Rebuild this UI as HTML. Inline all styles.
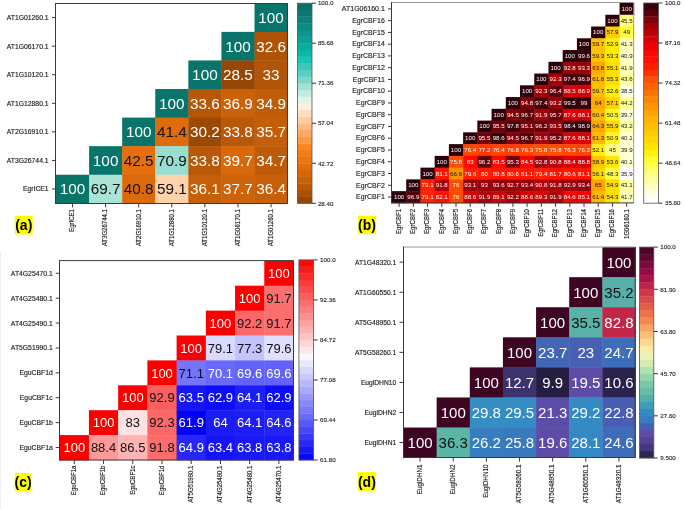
<!DOCTYPE html>
<html><head><meta charset="utf-8"><title>Heatmaps</title>
<style>
html,body{margin:0;padding:0;background:#fff;}
body{width:685px;height:509px;overflow:hidden;font-family:"Liberation Sans", sans-serif;}
svg{display:block;will-change:transform;filter:blur(0.35px);}
</style></head>
<body>
<svg width="685" height="509" viewBox="0 0 685 509" font-family='"Liberation Sans", sans-serif'>
<defs><clipPath id="clipb"><rect x="338" y="0" width="347" height="239.0"/></clipPath></defs>
<rect width="685" height="509" fill="#fff"/>
<line x1="0.5" y1="252" x2="0.5" y2="509" stroke="#eeeeee" stroke-width="1"/>
<rect x="254.51" y="3.3" width="33.49" height="28.97" fill="#08746a"/>
<rect x="221.43" y="31.87" width="33.49" height="28.97" fill="#08746a"/>
<rect x="254.51" y="31.87" width="33.49" height="28.97" fill="#af5307"/>
<rect x="188.34" y="60.44" width="33.49" height="28.97" fill="#08746a"/>
<rect x="221.43" y="60.44" width="33.49" height="28.97" fill="#964705"/>
<rect x="254.51" y="60.44" width="33.49" height="28.97" fill="#b25507"/>
<rect x="155.26" y="89.01" width="33.49" height="28.97" fill="#08746a"/>
<rect x="188.34" y="89.01" width="33.49" height="28.97" fill="#b65707"/>
<rect x="221.43" y="89.01" width="33.49" height="28.97" fill="#cb6109"/>
<rect x="254.51" y="89.01" width="33.49" height="28.97" fill="#bf5c08"/>
<rect x="122.17" y="117.59" width="33.49" height="28.97" fill="#08746a"/>
<rect x="155.26" y="117.59" width="33.49" height="28.97" fill="#df6c0a"/>
<rect x="188.34" y="117.59" width="33.49" height="28.97" fill="#9b4a05"/>
<rect x="221.43" y="117.59" width="33.49" height="28.97" fill="#b85808"/>
<rect x="254.51" y="117.59" width="33.49" height="28.97" fill="#c45e09"/>
<rect x="89.09" y="146.16" width="33.49" height="28.97" fill="#08746a"/>
<rect x="122.17" y="146.16" width="33.49" height="28.97" fill="#e56f0c"/>
<rect x="155.26" y="146.16" width="33.49" height="28.97" fill="#98ded0"/>
<rect x="188.34" y="146.16" width="33.49" height="28.97" fill="#b85808"/>
<rect x="221.43" y="146.16" width="33.49" height="28.97" fill="#d86809"/>
<rect x="254.51" y="146.16" width="33.49" height="28.97" fill="#be5b08"/>
<rect x="56" y="174.73" width="33.49" height="28.97" fill="#08746a"/>
<rect x="89.09" y="174.73" width="33.49" height="28.97" fill="#aae4d6"/>
<rect x="122.17" y="174.73" width="33.49" height="28.97" fill="#dd6a0a"/>
<rect x="155.26" y="174.73" width="33.49" height="28.97" fill="#fed3ac"/>
<rect x="188.34" y="174.73" width="33.49" height="28.97" fill="#c65f09"/>
<rect x="221.43" y="174.73" width="33.49" height="28.97" fill="#ce6309"/>
<rect x="254.51" y="174.73" width="33.49" height="28.97" fill="#c86009"/>
<text transform="translate(271.06 23.06) scale(1 1.0)" font-size="15.3" fill="#fff" text-anchor="middle">100</text>
<text transform="translate(237.97 51.63) scale(1 1.0)" font-size="15.3" fill="#fff" text-anchor="middle">100</text>
<text transform="translate(271.06 51.63) scale(1 1.0)" font-size="15.3" fill="#fff" text-anchor="middle">32.6</text>
<text transform="translate(204.89 80.21) scale(1 1.0)" font-size="15.3" fill="#fff" text-anchor="middle">100</text>
<text transform="translate(237.97 80.21) scale(1 1.0)" font-size="15.3" fill="#fff" text-anchor="middle">28.5</text>
<text transform="translate(271.06 80.21) scale(1 1.0)" font-size="15.3" fill="#fff" text-anchor="middle">33</text>
<text transform="translate(171.8 108.78) scale(1 1.0)" font-size="15.3" fill="#fff" text-anchor="middle">100</text>
<text transform="translate(204.89 108.78) scale(1 1.0)" font-size="15.3" fill="#fff" text-anchor="middle">33.6</text>
<text transform="translate(237.97 108.78) scale(1 1.0)" font-size="15.3" fill="#fff" text-anchor="middle">36.9</text>
<text transform="translate(271.06 108.78) scale(1 1.0)" font-size="15.3" fill="#fff" text-anchor="middle">34.9</text>
<text transform="translate(138.71 137.35) scale(1 1.0)" font-size="15.3" fill="#fff" text-anchor="middle">100</text>
<text transform="translate(171.8 137.35) scale(1 1.0)" font-size="15.3" fill="#111" text-anchor="middle">41.4</text>
<text transform="translate(204.89 137.35) scale(1 1.0)" font-size="15.3" fill="#fff" text-anchor="middle">30.2</text>
<text transform="translate(237.97 137.35) scale(1 1.0)" font-size="15.3" fill="#fff" text-anchor="middle">33.8</text>
<text transform="translate(271.06 137.35) scale(1 1.0)" font-size="15.3" fill="#fff" text-anchor="middle">35.7</text>
<text transform="translate(105.63 165.92) scale(1 1.0)" font-size="15.3" fill="#fff" text-anchor="middle">100</text>
<text transform="translate(138.71 165.92) scale(1 1.0)" font-size="15.3" fill="#111" text-anchor="middle">42.5</text>
<text transform="translate(171.8 165.92) scale(1 1.0)" font-size="15.3" fill="#111" text-anchor="middle">70.9</text>
<text transform="translate(204.89 165.92) scale(1 1.0)" font-size="15.3" fill="#fff" text-anchor="middle">33.8</text>
<text transform="translate(237.97 165.92) scale(1 1.0)" font-size="15.3" fill="#fff" text-anchor="middle">39.7</text>
<text transform="translate(271.06 165.92) scale(1 1.0)" font-size="15.3" fill="#fff" text-anchor="middle">34.7</text>
<text transform="translate(72.54 194.49) scale(1 1.0)" font-size="15.3" fill="#fff" text-anchor="middle">100</text>
<text transform="translate(105.63 194.49) scale(1 1.0)" font-size="15.3" fill="#111" text-anchor="middle">69.7</text>
<text transform="translate(138.71 194.49) scale(1 1.0)" font-size="15.3" fill="#111" text-anchor="middle">40.8</text>
<text transform="translate(171.8 194.49) scale(1 1.0)" font-size="15.3" fill="#111" text-anchor="middle">59.1</text>
<text transform="translate(204.89 194.49) scale(1 1.0)" font-size="15.3" fill="#fff" text-anchor="middle">36.1</text>
<text transform="translate(237.97 194.49) scale(1 1.0)" font-size="15.3" fill="#fff" text-anchor="middle">37.7</text>
<text transform="translate(271.06 194.49) scale(1 1.0)" font-size="15.3" fill="#fff" text-anchor="middle">36.4</text>
<line x1="55.5" y1="3.5" x2="287.5" y2="3.5" stroke="#3a3a3a" stroke-width="1"/>
<line x1="287.5" y1="3.5" x2="287.5" y2="203.5" stroke="#3a3a3a" stroke-width="1"/>
<line x1="55.5" y1="203.5" x2="287.5" y2="203.5" stroke="#3a3a3a" stroke-width="1"/>
<line x1="55.5" y1="3" x2="55.5" y2="204" stroke="#3a3a3a" stroke-width="1"/>
<line x1="52" y1="17.59" x2="56" y2="17.59" stroke="#3a3a3a" stroke-width="1"/>
<text transform="translate(48.6 20.03) scale(1 1.0)" font-size="6.8" fill="#222222" stroke="#222" stroke-width="0.15" text-anchor="end">AT1G01260.1</text>
<line x1="52" y1="46.16" x2="56" y2="46.16" stroke="#3a3a3a" stroke-width="1"/>
<text transform="translate(48.6 48.61) scale(1 1.0)" font-size="6.8" fill="#222222" stroke="#222" stroke-width="0.15" text-anchor="end">AT1G06170.1</text>
<line x1="52" y1="74.73" x2="56" y2="74.73" stroke="#3a3a3a" stroke-width="1"/>
<text transform="translate(48.6 77.18) scale(1 1.0)" font-size="6.8" fill="#222222" stroke="#222" stroke-width="0.15" text-anchor="end">AT1G10120.1</text>
<line x1="52" y1="103.3" x2="56" y2="103.3" stroke="#3a3a3a" stroke-width="1"/>
<text transform="translate(48.6 105.75) scale(1 1.0)" font-size="6.8" fill="#222222" stroke="#222" stroke-width="0.15" text-anchor="end">AT1G12880.1</text>
<line x1="52" y1="131.87" x2="56" y2="131.87" stroke="#3a3a3a" stroke-width="1"/>
<text transform="translate(48.6 134.32) scale(1 1.0)" font-size="6.8" fill="#222222" stroke="#222" stroke-width="0.15" text-anchor="end">AT2G16910.1</text>
<line x1="52" y1="160.44" x2="56" y2="160.44" stroke="#3a3a3a" stroke-width="1"/>
<text transform="translate(48.6 162.89) scale(1 1.0)" font-size="6.8" fill="#222222" stroke="#222" stroke-width="0.15" text-anchor="end">AT3G26744.1</text>
<line x1="52" y1="189.01" x2="56" y2="189.01" stroke="#3a3a3a" stroke-width="1"/>
<text transform="translate(48.6 191.46) scale(1 1.0)" font-size="6.8" fill="#222222" stroke="#222" stroke-width="0.15" text-anchor="end">EgrICE1</text>
<line x1="72.54" y1="203.3" x2="72.54" y2="207.3" stroke="#3a3a3a" stroke-width="1"/>
<text transform="translate(74.41 209) rotate(-90) scale(0.88 1)" font-size="6.9" fill="#222222" stroke="#222" stroke-width="0.15" text-anchor="end">EgrICE1</text>
<line x1="105.63" y1="203.3" x2="105.63" y2="207.3" stroke="#3a3a3a" stroke-width="1"/>
<text transform="translate(107.49 209) rotate(-90) scale(0.88 1)" font-size="6.9" fill="#222222" stroke="#222" stroke-width="0.15" text-anchor="end">AT3G26744.1</text>
<line x1="138.71" y1="203.3" x2="138.71" y2="207.3" stroke="#3a3a3a" stroke-width="1"/>
<text transform="translate(140.58 209) rotate(-90) scale(0.88 1)" font-size="6.9" fill="#222222" stroke="#222" stroke-width="0.15" text-anchor="end">AT2G16910.1</text>
<line x1="171.8" y1="203.3" x2="171.8" y2="207.3" stroke="#3a3a3a" stroke-width="1"/>
<text transform="translate(173.66 209) rotate(-90) scale(0.88 1)" font-size="6.9" fill="#222222" stroke="#222" stroke-width="0.15" text-anchor="end">AT1G12880.1</text>
<line x1="204.89" y1="203.3" x2="204.89" y2="207.3" stroke="#3a3a3a" stroke-width="1"/>
<text transform="translate(206.75 209) rotate(-90) scale(0.88 1)" font-size="6.9" fill="#222222" stroke="#222" stroke-width="0.15" text-anchor="end">AT1G10120.1</text>
<line x1="237.97" y1="203.3" x2="237.97" y2="207.3" stroke="#3a3a3a" stroke-width="1"/>
<text transform="translate(239.83 209) rotate(-90) scale(0.88 1)" font-size="6.9" fill="#222222" stroke="#222" stroke-width="0.15" text-anchor="end">AT1G06170.1</text>
<line x1="271.06" y1="203.3" x2="271.06" y2="207.3" stroke="#3a3a3a" stroke-width="1"/>
<text transform="translate(272.92 209) rotate(-90) scale(0.88 1)" font-size="6.9" fill="#222222" stroke="#222" stroke-width="0.15" text-anchor="end">AT1G01260.1</text>
<rect x="297.4" y="196.63" width="14.6" height="6.97" fill="#964705"/>
<rect x="297.4" y="189.96" width="14.6" height="6.97" fill="#aa5106"/>
<rect x="297.4" y="183.29" width="14.6" height="6.97" fill="#bc5a08"/>
<rect x="297.4" y="176.62" width="14.6" height="6.97" fill="#ca6109"/>
<rect x="297.4" y="169.95" width="14.6" height="6.97" fill="#d56709"/>
<rect x="297.4" y="163.28" width="14.6" height="6.97" fill="#e06c0a"/>
<rect x="297.4" y="156.61" width="14.6" height="6.97" fill="#ec740e"/>
<rect x="297.4" y="149.94" width="14.6" height="6.97" fill="#f47c14"/>
<rect x="297.4" y="143.27" width="14.6" height="6.97" fill="#f88828"/>
<rect x="297.4" y="136.6" width="14.6" height="6.97" fill="#fc9840"/>
<rect x="297.4" y="129.93" width="14.6" height="6.97" fill="#fea860"/>
<rect x="297.4" y="123.26" width="14.6" height="6.97" fill="#feba80"/>
<rect x="297.4" y="116.59" width="14.6" height="6.97" fill="#fecca0"/>
<rect x="297.4" y="109.92" width="14.6" height="6.97" fill="#fee0c0"/>
<rect x="297.4" y="103.25" width="14.6" height="6.97" fill="#fdf0dc"/>
<rect x="297.4" y="96.58" width="14.6" height="6.97" fill="#e2f3e8"/>
<rect x="297.4" y="89.91" width="14.6" height="6.97" fill="#c2ebe0"/>
<rect x="297.4" y="83.24" width="14.6" height="6.97" fill="#a4e2d4"/>
<rect x="297.4" y="76.57" width="14.6" height="6.97" fill="#7dd6c8"/>
<rect x="297.4" y="69.9" width="14.6" height="6.97" fill="#5acec0"/>
<rect x="297.4" y="63.23" width="14.6" height="6.97" fill="#3cc8ba"/>
<rect x="297.4" y="56.56" width="14.6" height="6.97" fill="#1cc2b2"/>
<rect x="297.4" y="49.89" width="14.6" height="6.97" fill="#0ab8a6"/>
<rect x="297.4" y="43.22" width="14.6" height="6.97" fill="#0aac9d"/>
<rect x="297.4" y="36.55" width="14.6" height="6.97" fill="#0aa193"/>
<rect x="297.4" y="29.88" width="14.6" height="6.97" fill="#0a968a"/>
<rect x="297.4" y="23.21" width="14.6" height="6.97" fill="#0a8c80"/>
<rect x="297.4" y="16.54" width="14.6" height="6.97" fill="#098277"/>
<rect x="297.4" y="9.87" width="14.6" height="6.97" fill="#09796f"/>
<rect x="297.4" y="3.2" width="14.6" height="6.97" fill="#087068"/>
<rect x="297.4" y="3.2" width="14.6" height="200.1" fill="none" stroke="#555" stroke-width="0.8"/>
<line x1="312" y1="3.2" x2="316" y2="3.2" stroke="#333" stroke-width="1"/>
<text x="317.9" y="5.43" font-size="6.2" fill="#222" stroke="#222" stroke-width="0.12">100.0</text>
<line x1="312" y1="43.22" x2="316" y2="43.22" stroke="#333" stroke-width="1"/>
<text x="317.9" y="45.45" font-size="6.2" fill="#222" stroke="#222" stroke-width="0.12">85.68</text>
<line x1="312" y1="83.24" x2="316" y2="83.24" stroke="#333" stroke-width="1"/>
<text x="317.9" y="85.47" font-size="6.2" fill="#222" stroke="#222" stroke-width="0.12">71.36</text>
<line x1="312" y1="123.26" x2="316" y2="123.26" stroke="#333" stroke-width="1"/>
<text x="317.9" y="125.49" font-size="6.2" fill="#222" stroke="#222" stroke-width="0.12">57.04</text>
<line x1="312" y1="163.28" x2="316" y2="163.28" stroke="#333" stroke-width="1"/>
<text x="317.9" y="165.51" font-size="6.2" fill="#222" stroke="#222" stroke-width="0.12">42.72</text>
<line x1="312" y1="203.3" x2="316" y2="203.3" stroke="#333" stroke-width="1"/>
<text x="317.9" y="205.53" font-size="6.2" fill="#222" stroke="#222" stroke-width="0.12">28.40</text>
<rect x="14.8" y="215.9" width="17.9" height="18.6" fill="#ffff00"/>
<text x="23.75" y="229.8" font-size="14" font-weight="bold" fill="#000" text-anchor="middle">(a)</text>
<g clip-path="url(#clipb)">
<rect x="619.58" y="3" width="14.62" height="12.16" fill="#2c0008"/>
<rect x="605.35" y="14.76" width="14.62" height="12.16" fill="#2c0008"/>
<rect x="619.58" y="14.76" width="14.62" height="12.16" fill="#ffff7f"/>
<rect x="591.13" y="26.52" width="14.62" height="12.16" fill="#2c0008"/>
<rect x="605.35" y="26.52" width="14.62" height="12.16" fill="#ffcc00"/>
<rect x="619.58" y="26.52" width="14.62" height="12.16" fill="#ffff3c"/>
<rect x="576.91" y="38.28" width="14.62" height="12.16" fill="#2c0008"/>
<rect x="591.13" y="38.28" width="14.62" height="12.16" fill="#ffc200"/>
<rect x="605.35" y="38.28" width="14.62" height="12.16" fill="#ffec03"/>
<rect x="619.58" y="38.28" width="14.62" height="12.16" fill="#ffffbd"/>
<rect x="562.68" y="50.04" width="14.62" height="12.16" fill="#2c0008"/>
<rect x="576.91" y="50.04" width="14.62" height="12.16" fill="#2f0008"/>
<rect x="591.13" y="50.04" width="14.62" height="12.16" fill="#ffc400"/>
<rect x="605.35" y="50.04" width="14.62" height="12.16" fill="#ffea00"/>
<rect x="619.58" y="50.04" width="14.62" height="12.16" fill="#ffffc4"/>
<rect x="548.46" y="61.79" width="14.62" height="12.16" fill="#2c0008"/>
<rect x="562.68" y="61.79" width="14.62" height="12.16" fill="#9d0008"/>
<rect x="576.91" y="61.79" width="14.62" height="12.16" fill="#970008"/>
<rect x="591.13" y="61.79" width="14.62" height="12.16" fill="#ffa900"/>
<rect x="605.35" y="61.79" width="14.62" height="12.16" fill="#ffde00"/>
<rect x="619.58" y="61.79" width="14.62" height="12.16" fill="#ffffb5"/>
<rect x="534.24" y="73.55" width="14.62" height="12.16" fill="#2c0008"/>
<rect x="548.46" y="73.55" width="14.62" height="12.16" fill="#a30008"/>
<rect x="562.68" y="73.55" width="14.62" height="12.16" fill="#480008"/>
<rect x="576.91" y="73.55" width="14.62" height="12.16" fill="#550008"/>
<rect x="591.13" y="73.55" width="14.62" height="12.16" fill="#ffb700"/>
<rect x="605.35" y="73.55" width="14.62" height="12.16" fill="#ffdd00"/>
<rect x="619.58" y="73.55" width="14.62" height="12.16" fill="#ffff9b"/>
<rect x="520.01" y="85.31" width="14.62" height="12.16" fill="#2c0008"/>
<rect x="534.24" y="85.31" width="14.62" height="12.16" fill="#a30008"/>
<rect x="548.46" y="85.31" width="14.62" height="12.16" fill="#5f0008"/>
<rect x="562.68" y="85.31" width="14.62" height="12.16" fill="#d70004"/>
<rect x="576.91" y="85.31" width="14.62" height="12.16" fill="#d20004"/>
<rect x="591.13" y="85.31" width="14.62" height="12.16" fill="#ffc200"/>
<rect x="605.35" y="85.31" width="14.62" height="12.16" fill="#ffee08"/>
<rect x="619.58" y="85.31" width="14.62" height="12.16" fill="#ffffea"/>
<rect x="505.79" y="97.07" width="14.62" height="12.16" fill="#2c0008"/>
<rect x="520.01" y="97.07" width="14.62" height="12.16" fill="#810008"/>
<rect x="534.24" y="97.07" width="14.62" height="12.16" fill="#480008"/>
<rect x="548.46" y="97.07" width="14.62" height="12.16" fill="#980008"/>
<rect x="562.68" y="97.07" width="14.62" height="12.16" fill="#300008"/>
<rect x="576.91" y="97.07" width="14.62" height="12.16" fill="#340008"/>
<rect x="591.13" y="97.07" width="14.62" height="12.16" fill="#ffa800"/>
<rect x="605.35" y="97.07" width="14.62" height="12.16" fill="#ffd100"/>
<rect x="619.58" y="97.07" width="14.62" height="12.16" fill="#ffff92"/>
<rect x="491.56" y="108.83" width="14.62" height="12.16" fill="#2c0008"/>
<rect x="505.79" y="108.83" width="14.62" height="12.16" fill="#880008"/>
<rect x="520.01" y="108.83" width="14.62" height="12.16" fill="#5a0008"/>
<rect x="534.24" y="108.83" width="14.62" height="12.16" fill="#a80008"/>
<rect x="548.46" y="108.83" width="14.62" height="12.16" fill="#6c0008"/>
<rect x="562.68" y="108.83" width="14.62" height="12.16" fill="#e00003"/>
<rect x="576.91" y="108.83" width="14.62" height="12.16" fill="#db0004"/>
<rect x="591.13" y="108.83" width="14.62" height="12.16" fill="#ffbf00"/>
<rect x="605.35" y="108.83" width="14.62" height="12.16" fill="#fff926"/>
<rect x="619.58" y="108.83" width="14.62" height="12.16" fill="#ffffd7"/>
<rect x="477.34" y="120.59" width="14.62" height="12.16" fill="#2c0008"/>
<rect x="491.56" y="120.59" width="14.62" height="12.16" fill="#710008"/>
<rect x="505.79" y="120.59" width="14.62" height="12.16" fill="#430008"/>
<rect x="520.01" y="120.59" width="14.62" height="12.16" fill="#7a0008"/>
<rect x="534.24" y="120.59" width="14.62" height="12.16" fill="#630008"/>
<rect x="548.46" y="120.59" width="14.62" height="12.16" fill="#940008"/>
<rect x="562.68" y="120.59" width="14.62" height="12.16" fill="#3c0008"/>
<rect x="576.91" y="120.59" width="14.62" height="12.16" fill="#360008"/>
<rect x="591.13" y="120.59" width="14.62" height="12.16" fill="#ffa600"/>
<rect x="605.35" y="120.59" width="14.62" height="12.16" fill="#ffd900"/>
<rect x="619.58" y="120.59" width="14.62" height="12.16" fill="#ffffa1"/>
<rect x="463.12" y="132.35" width="14.62" height="12.16" fill="#2c0008"/>
<rect x="477.34" y="132.35" width="14.62" height="12.16" fill="#710008"/>
<rect x="491.56" y="132.35" width="14.62" height="12.16" fill="#390008"/>
<rect x="505.79" y="132.35" width="14.62" height="12.16" fill="#880008"/>
<rect x="520.01" y="132.35" width="14.62" height="12.16" fill="#5a0008"/>
<rect x="534.24" y="132.35" width="14.62" height="12.16" fill="#a80008"/>
<rect x="548.46" y="132.35" width="14.62" height="12.16" fill="#770008"/>
<rect x="562.68" y="132.35" width="14.62" height="12.16" fill="#e00003"/>
<rect x="576.91" y="132.35" width="14.62" height="12.16" fill="#db0004"/>
<rect x="591.13" y="132.35" width="14.62" height="12.16" fill="#ffba00"/>
<rect x="605.35" y="132.35" width="14.62" height="12.16" fill="#fff720"/>
<rect x="619.58" y="132.35" width="14.62" height="12.16" fill="#ffffd1"/>
<rect x="448.89" y="144.11" width="14.62" height="12.16" fill="#2c0008"/>
<rect x="463.12" y="144.11" width="14.62" height="12.16" fill="#ff4400"/>
<rect x="477.34" y="144.11" width="14.62" height="12.16" fill="#ff3700"/>
<rect x="491.56" y="144.11" width="14.62" height="12.16" fill="#ff4400"/>
<rect x="505.79" y="144.11" width="14.62" height="12.16" fill="#ff3d00"/>
<rect x="520.01" y="144.11" width="14.62" height="12.16" fill="#ff4500"/>
<rect x="534.24" y="144.11" width="14.62" height="12.16" fill="#ff4d00"/>
<rect x="548.46" y="144.11" width="14.62" height="12.16" fill="#ff4d00"/>
<rect x="562.68" y="144.11" width="14.62" height="12.16" fill="#ff4500"/>
<rect x="576.91" y="144.11" width="14.62" height="12.16" fill="#ff4500"/>
<rect x="591.13" y="144.11" width="14.62" height="12.16" fill="#fff00f"/>
<rect x="605.35" y="144.11" width="14.62" height="12.16" fill="#ffff86"/>
<rect x="619.58" y="144.11" width="14.62" height="12.16" fill="#ffffd4"/>
<rect x="434.67" y="155.86" width="14.62" height="12.16" fill="#2c0008"/>
<rect x="448.89" y="155.86" width="14.62" height="12.16" fill="#ff4d00"/>
<rect x="463.12" y="155.86" width="14.62" height="12.16" fill="#ff0a00"/>
<rect x="477.34" y="155.86" width="14.62" height="12.16" fill="#630008"/>
<rect x="491.56" y="155.86" width="14.62" height="12.16" fill="#fe0700"/>
<rect x="505.79" y="155.86" width="14.62" height="12.16" fill="#750008"/>
<rect x="520.01" y="155.86" width="14.62" height="12.16" fill="#f80401"/>
<rect x="534.24" y="155.86" width="14.62" height="12.16" fill="#9d0008"/>
<rect x="548.46" y="155.86" width="14.62" height="12.16" fill="#b70007"/>
<rect x="562.68" y="155.86" width="14.62" height="12.16" fill="#d80004"/>
<rect x="576.91" y="155.86" width="14.62" height="12.16" fill="#d30004"/>
<rect x="591.13" y="155.86" width="14.62" height="12.16" fill="#ffc600"/>
<rect x="605.35" y="155.86" width="14.62" height="12.16" fill="#ffe800"/>
<rect x="619.58" y="155.86" width="14.62" height="12.16" fill="#ffffd1"/>
<rect x="420.45" y="167.62" width="14.62" height="12.16" fill="#2c0008"/>
<rect x="434.67" y="167.62" width="14.62" height="12.16" fill="#ff1400"/>
<rect x="448.89" y="167.62" width="14.62" height="12.16" fill="#ff9400"/>
<rect x="463.12" y="167.62" width="14.62" height="12.16" fill="#ff1e00"/>
<rect x="477.34" y="167.62" width="14.62" height="12.16" fill="#ff1b00"/>
<rect x="491.56" y="167.62" width="14.62" height="12.16" fill="#ff1600"/>
<rect x="505.79" y="167.62" width="14.62" height="12.16" fill="#ff1700"/>
<rect x="520.01" y="167.62" width="14.62" height="12.16" fill="#ff1400"/>
<rect x="534.24" y="167.62" width="14.62" height="12.16" fill="#ff1f00"/>
<rect x="548.46" y="167.62" width="14.62" height="12.16" fill="#ff1100"/>
<rect x="562.68" y="167.62" width="14.62" height="12.16" fill="#ff1700"/>
<rect x="576.91" y="167.62" width="14.62" height="12.16" fill="#ff1400"/>
<rect x="591.13" y="167.62" width="14.62" height="12.16" fill="#ffd700"/>
<rect x="605.35" y="167.62" width="14.62" height="12.16" fill="#ffff4a"/>
<rect x="619.58" y="167.62" width="14.62" height="12.16" fill="#ffffff"/>
<rect x="406.22" y="179.38" width="14.62" height="12.16" fill="#2c0008"/>
<rect x="420.45" y="179.38" width="14.62" height="12.16" fill="#ff2100"/>
<rect x="434.67" y="179.38" width="14.62" height="12.16" fill="#aa0008"/>
<rect x="448.89" y="179.38" width="14.62" height="12.16" fill="#ff4a00"/>
<rect x="463.12" y="179.38" width="14.62" height="12.16" fill="#990008"/>
<rect x="477.34" y="179.38" width="14.62" height="12.16" fill="#9a0008"/>
<rect x="491.56" y="179.38" width="14.62" height="12.16" fill="#930008"/>
<rect x="505.79" y="179.38" width="14.62" height="12.16" fill="#9e0008"/>
<rect x="520.01" y="179.38" width="14.62" height="12.16" fill="#950008"/>
<rect x="534.24" y="179.38" width="14.62" height="12.16" fill="#b70007"/>
<rect x="548.46" y="179.38" width="14.62" height="12.16" fill="#aa0008"/>
<rect x="562.68" y="179.38" width="14.62" height="12.16" fill="#9c0008"/>
<rect x="576.91" y="179.38" width="14.62" height="12.16" fill="#950008"/>
<rect x="591.13" y="179.38" width="14.62" height="12.16" fill="#ffa100"/>
<rect x="605.35" y="179.38" width="14.62" height="12.16" fill="#ffdf00"/>
<rect x="619.58" y="179.38" width="14.62" height="12.16" fill="#ffffa3"/>
<rect x="392" y="191.14" width="14.62" height="12.16" fill="#2c0008"/>
<rect x="406.22" y="191.14" width="14.62" height="12.16" fill="#550008"/>
<rect x="420.45" y="191.14" width="14.62" height="12.16" fill="#ff2100"/>
<rect x="434.67" y="191.14" width="14.62" height="12.16" fill="#ff0f00"/>
<rect x="448.89" y="191.14" width="14.62" height="12.16" fill="#ff4a00"/>
<rect x="463.12" y="191.14" width="14.62" height="12.16" fill="#d60004"/>
<rect x="477.34" y="191.14" width="14.62" height="12.16" fill="#a80008"/>
<rect x="491.56" y="191.14" width="14.62" height="12.16" fill="#cf0005"/>
<rect x="505.79" y="191.14" width="14.62" height="12.16" fill="#a40008"/>
<rect x="520.01" y="191.14" width="14.62" height="12.16" fill="#d60004"/>
<rect x="534.24" y="191.14" width="14.62" height="12.16" fill="#cc0005"/>
<rect x="548.46" y="191.14" width="14.62" height="12.16" fill="#a80008"/>
<rect x="562.68" y="191.14" width="14.62" height="12.16" fill="#f70401"/>
<rect x="576.91" y="191.14" width="14.62" height="12.16" fill="#f50201"/>
<rect x="591.13" y="191.14" width="14.62" height="12.16" fill="#ffb900"/>
<rect x="605.35" y="191.14" width="14.62" height="12.16" fill="#ffe300"/>
<rect x="619.58" y="191.14" width="14.62" height="12.16" fill="#ffffb7"/>
<text transform="translate(626.69 10.88) scale(1 0.9)" font-size="6.2" fill="#fff" text-anchor="middle">100</text>
<text transform="translate(612.46 22.64) scale(1 0.9)" font-size="6.2" fill="#fff" text-anchor="middle">100</text>
<text transform="translate(626.69 22.64) scale(1 0.9)" font-size="6.2" fill="#111" text-anchor="middle">45.5</text>
<text transform="translate(598.24 34.39) scale(1 0.9)" font-size="6.2" fill="#fff" text-anchor="middle">100</text>
<text transform="translate(612.46 34.39) scale(1 0.9)" font-size="6.2" fill="#111" text-anchor="middle">57.9</text>
<text transform="translate(626.69 34.39) scale(1 0.9)" font-size="6.2" fill="#111" text-anchor="middle">49</text>
<text transform="translate(584.02 46.15) scale(1 0.9)" font-size="6.2" fill="#fff" text-anchor="middle">100</text>
<text transform="translate(598.24 46.15) scale(1 0.9)" font-size="6.2" fill="#111" text-anchor="middle">59.7</text>
<text transform="translate(612.46 46.15) scale(1 0.9)" font-size="6.2" fill="#111" text-anchor="middle">52.9</text>
<text transform="translate(626.69 46.15) scale(1 0.9)" font-size="6.2" fill="#111" text-anchor="middle">41.3</text>
<text transform="translate(569.79 57.91) scale(1 0.9)" font-size="6.2" fill="#fff" text-anchor="middle">100</text>
<text transform="translate(584.02 57.91) scale(1 0.9)" font-size="6.2" fill="#fff" text-anchor="middle">99.6</text>
<text transform="translate(598.24 57.91) scale(1 0.9)" font-size="6.2" fill="#111" text-anchor="middle">59.3</text>
<text transform="translate(612.46 57.91) scale(1 0.9)" font-size="6.2" fill="#111" text-anchor="middle">53.3</text>
<text transform="translate(626.69 57.91) scale(1 0.9)" font-size="6.2" fill="#111" text-anchor="middle">40.9</text>
<text transform="translate(555.57 69.67) scale(1 0.9)" font-size="6.2" fill="#fff" text-anchor="middle">100</text>
<text transform="translate(569.79 69.67) scale(1 0.9)" font-size="6.2" fill="#fff" text-anchor="middle">92.8</text>
<text transform="translate(584.02 69.67) scale(1 0.9)" font-size="6.2" fill="#fff" text-anchor="middle">93.3</text>
<text transform="translate(598.24 69.67) scale(1 0.9)" font-size="6.2" fill="#111" text-anchor="middle">63.8</text>
<text transform="translate(612.46 69.67) scale(1 0.9)" font-size="6.2" fill="#111" text-anchor="middle">55.1</text>
<text transform="translate(626.69 69.67) scale(1 0.9)" font-size="6.2" fill="#111" text-anchor="middle">41.9</text>
<text transform="translate(541.35 81.43) scale(1 0.9)" font-size="6.2" fill="#fff" text-anchor="middle">100</text>
<text transform="translate(555.57 81.43) scale(1 0.9)" font-size="6.2" fill="#fff" text-anchor="middle">92.3</text>
<text transform="translate(569.79 81.43) scale(1 0.9)" font-size="6.2" fill="#fff" text-anchor="middle">97.4</text>
<text transform="translate(584.02 81.43) scale(1 0.9)" font-size="6.2" fill="#fff" text-anchor="middle">96.9</text>
<text transform="translate(598.24 81.43) scale(1 0.9)" font-size="6.2" fill="#111" text-anchor="middle">61.8</text>
<text transform="translate(612.46 81.43) scale(1 0.9)" font-size="6.2" fill="#111" text-anchor="middle">55.3</text>
<text transform="translate(626.69 81.43) scale(1 0.9)" font-size="6.2" fill="#111" text-anchor="middle">43.6</text>
<text transform="translate(527.12 93.19) scale(1 0.9)" font-size="6.2" fill="#fff" text-anchor="middle">100</text>
<text transform="translate(541.35 93.19) scale(1 0.9)" font-size="6.2" fill="#fff" text-anchor="middle">92.3</text>
<text transform="translate(555.57 93.19) scale(1 0.9)" font-size="6.2" fill="#fff" text-anchor="middle">96.4</text>
<text transform="translate(569.79 93.19) scale(1 0.9)" font-size="6.2" fill="#fff" text-anchor="middle">88.5</text>
<text transform="translate(584.02 93.19) scale(1 0.9)" font-size="6.2" fill="#fff" text-anchor="middle">88.9</text>
<text transform="translate(598.24 93.19) scale(1 0.9)" font-size="6.2" fill="#111" text-anchor="middle">59.7</text>
<text transform="translate(612.46 93.19) scale(1 0.9)" font-size="6.2" fill="#111" text-anchor="middle">52.6</text>
<text transform="translate(626.69 93.19) scale(1 0.9)" font-size="6.2" fill="#111" text-anchor="middle">38.5</text>
<text transform="translate(512.9 104.95) scale(1 0.9)" font-size="6.2" fill="#fff" text-anchor="middle">100</text>
<text transform="translate(527.12 104.95) scale(1 0.9)" font-size="6.2" fill="#fff" text-anchor="middle">94.8</text>
<text transform="translate(541.35 104.95) scale(1 0.9)" font-size="6.2" fill="#fff" text-anchor="middle">97.4</text>
<text transform="translate(555.57 104.95) scale(1 0.9)" font-size="6.2" fill="#fff" text-anchor="middle">93.2</text>
<text transform="translate(569.79 104.95) scale(1 0.9)" font-size="6.2" fill="#fff" text-anchor="middle">99.5</text>
<text transform="translate(584.02 104.95) scale(1 0.9)" font-size="6.2" fill="#fff" text-anchor="middle">99</text>
<text transform="translate(598.24 104.95) scale(1 0.9)" font-size="6.2" fill="#111" text-anchor="middle">64</text>
<text transform="translate(612.46 104.95) scale(1 0.9)" font-size="6.2" fill="#111" text-anchor="middle">57.1</text>
<text transform="translate(626.69 104.95) scale(1 0.9)" font-size="6.2" fill="#111" text-anchor="middle">44.2</text>
<text transform="translate(498.68 116.71) scale(1 0.9)" font-size="6.2" fill="#fff" text-anchor="middle">100</text>
<text transform="translate(512.9 116.71) scale(1 0.9)" font-size="6.2" fill="#fff" text-anchor="middle">94.5</text>
<text transform="translate(527.12 116.71) scale(1 0.9)" font-size="6.2" fill="#fff" text-anchor="middle">96.7</text>
<text transform="translate(541.35 116.71) scale(1 0.9)" font-size="6.2" fill="#fff" text-anchor="middle">91.9</text>
<text transform="translate(555.57 116.71) scale(1 0.9)" font-size="6.2" fill="#fff" text-anchor="middle">95.7</text>
<text transform="translate(569.79 116.71) scale(1 0.9)" font-size="6.2" fill="#fff" text-anchor="middle">87.6</text>
<text transform="translate(584.02 116.71) scale(1 0.9)" font-size="6.2" fill="#fff" text-anchor="middle">88.1</text>
<text transform="translate(598.24 116.71) scale(1 0.9)" font-size="6.2" fill="#111" text-anchor="middle">60.4</text>
<text transform="translate(612.46 116.71) scale(1 0.9)" font-size="6.2" fill="#111" text-anchor="middle">50.5</text>
<text transform="translate(626.69 116.71) scale(1 0.9)" font-size="6.2" fill="#111" text-anchor="middle">39.7</text>
<text transform="translate(484.45 128.47) scale(1 0.9)" font-size="6.2" fill="#fff" text-anchor="middle">100</text>
<text transform="translate(498.68 128.47) scale(1 0.9)" font-size="6.2" fill="#fff" text-anchor="middle">95.5</text>
<text transform="translate(512.9 128.47) scale(1 0.9)" font-size="6.2" fill="#fff" text-anchor="middle">97.8</text>
<text transform="translate(527.12 128.47) scale(1 0.9)" font-size="6.2" fill="#fff" text-anchor="middle">95.1</text>
<text transform="translate(541.35 128.47) scale(1 0.9)" font-size="6.2" fill="#fff" text-anchor="middle">96.2</text>
<text transform="translate(555.57 128.47) scale(1 0.9)" font-size="6.2" fill="#fff" text-anchor="middle">93.5</text>
<text transform="translate(569.79 128.47) scale(1 0.9)" font-size="6.2" fill="#fff" text-anchor="middle">98.4</text>
<text transform="translate(584.02 128.47) scale(1 0.9)" font-size="6.2" fill="#fff" text-anchor="middle">98.9</text>
<text transform="translate(598.24 128.47) scale(1 0.9)" font-size="6.2" fill="#111" text-anchor="middle">64.3</text>
<text transform="translate(612.46 128.47) scale(1 0.9)" font-size="6.2" fill="#111" text-anchor="middle">55.9</text>
<text transform="translate(626.69 128.47) scale(1 0.9)" font-size="6.2" fill="#111" text-anchor="middle">43.2</text>
<text transform="translate(470.23 140.22) scale(1 0.9)" font-size="6.2" fill="#fff" text-anchor="middle">100</text>
<text transform="translate(484.45 140.22) scale(1 0.9)" font-size="6.2" fill="#fff" text-anchor="middle">95.5</text>
<text transform="translate(498.68 140.22) scale(1 0.9)" font-size="6.2" fill="#fff" text-anchor="middle">98.6</text>
<text transform="translate(512.9 140.22) scale(1 0.9)" font-size="6.2" fill="#fff" text-anchor="middle">94.5</text>
<text transform="translate(527.12 140.22) scale(1 0.9)" font-size="6.2" fill="#fff" text-anchor="middle">96.7</text>
<text transform="translate(541.35 140.22) scale(1 0.9)" font-size="6.2" fill="#fff" text-anchor="middle">91.9</text>
<text transform="translate(555.57 140.22) scale(1 0.9)" font-size="6.2" fill="#fff" text-anchor="middle">95.2</text>
<text transform="translate(569.79 140.22) scale(1 0.9)" font-size="6.2" fill="#fff" text-anchor="middle">87.6</text>
<text transform="translate(584.02 140.22) scale(1 0.9)" font-size="6.2" fill="#fff" text-anchor="middle">88.1</text>
<text transform="translate(598.24 140.22) scale(1 0.9)" font-size="6.2" fill="#111" text-anchor="middle">61.3</text>
<text transform="translate(612.46 140.22) scale(1 0.9)" font-size="6.2" fill="#111" text-anchor="middle">50.9</text>
<text transform="translate(626.69 140.22) scale(1 0.9)" font-size="6.2" fill="#111" text-anchor="middle">40.1</text>
<text transform="translate(456.01 151.98) scale(1 0.9)" font-size="6.2" fill="#fff" text-anchor="middle">100</text>
<text transform="translate(470.23 151.98) scale(1 0.9)" font-size="6.2" fill="#fff" text-anchor="middle">76.4</text>
<text transform="translate(484.45 151.98) scale(1 0.9)" font-size="6.2" fill="#fff" text-anchor="middle">77.2</text>
<text transform="translate(498.68 151.98) scale(1 0.9)" font-size="6.2" fill="#fff" text-anchor="middle">76.4</text>
<text transform="translate(512.9 151.98) scale(1 0.9)" font-size="6.2" fill="#fff" text-anchor="middle">76.8</text>
<text transform="translate(527.12 151.98) scale(1 0.9)" font-size="6.2" fill="#fff" text-anchor="middle">76.3</text>
<text transform="translate(541.35 151.98) scale(1 0.9)" font-size="6.2" fill="#fff" text-anchor="middle">75.8</text>
<text transform="translate(555.57 151.98) scale(1 0.9)" font-size="6.2" fill="#fff" text-anchor="middle">75.8</text>
<text transform="translate(569.79 151.98) scale(1 0.9)" font-size="6.2" fill="#fff" text-anchor="middle">76.3</text>
<text transform="translate(584.02 151.98) scale(1 0.9)" font-size="6.2" fill="#fff" text-anchor="middle">76.3</text>
<text transform="translate(598.24 151.98) scale(1 0.9)" font-size="6.2" fill="#111" text-anchor="middle">52.1</text>
<text transform="translate(612.46 151.98) scale(1 0.9)" font-size="6.2" fill="#111" text-anchor="middle">45</text>
<text transform="translate(626.69 151.98) scale(1 0.9)" font-size="6.2" fill="#111" text-anchor="middle">39.9</text>
<text transform="translate(441.78 163.74) scale(1 0.9)" font-size="6.2" fill="#fff" text-anchor="middle">100</text>
<text transform="translate(456.01 163.74) scale(1 0.9)" font-size="6.2" fill="#fff" text-anchor="middle">75.8</text>
<text transform="translate(470.23 163.74) scale(1 0.9)" font-size="6.2" fill="#fff" text-anchor="middle">83</text>
<text transform="translate(484.45 163.74) scale(1 0.9)" font-size="6.2" fill="#fff" text-anchor="middle">96.2</text>
<text transform="translate(498.68 163.74) scale(1 0.9)" font-size="6.2" fill="#fff" text-anchor="middle">83.5</text>
<text transform="translate(512.9 163.74) scale(1 0.9)" font-size="6.2" fill="#fff" text-anchor="middle">95.3</text>
<text transform="translate(527.12 163.74) scale(1 0.9)" font-size="6.2" fill="#fff" text-anchor="middle">84.5</text>
<text transform="translate(541.35 163.74) scale(1 0.9)" font-size="6.2" fill="#fff" text-anchor="middle">92.8</text>
<text transform="translate(555.57 163.74) scale(1 0.9)" font-size="6.2" fill="#fff" text-anchor="middle">90.8</text>
<text transform="translate(569.79 163.74) scale(1 0.9)" font-size="6.2" fill="#fff" text-anchor="middle">88.4</text>
<text transform="translate(584.02 163.74) scale(1 0.9)" font-size="6.2" fill="#fff" text-anchor="middle">88.8</text>
<text transform="translate(598.24 163.74) scale(1 0.9)" font-size="6.2" fill="#111" text-anchor="middle">58.9</text>
<text transform="translate(612.46 163.74) scale(1 0.9)" font-size="6.2" fill="#111" text-anchor="middle">53.6</text>
<text transform="translate(626.69 163.74) scale(1 0.9)" font-size="6.2" fill="#111" text-anchor="middle">40.1</text>
<text transform="translate(427.56 175.5) scale(1 0.9)" font-size="6.2" fill="#fff" text-anchor="middle">100</text>
<text transform="translate(441.78 175.5) scale(1 0.9)" font-size="6.2" fill="#fff" text-anchor="middle">81.1</text>
<text transform="translate(456.01 175.5) scale(1 0.9)" font-size="6.2" fill="#111" text-anchor="middle">66.9</text>
<text transform="translate(470.23 175.5) scale(1 0.9)" font-size="6.2" fill="#fff" text-anchor="middle">79.6</text>
<text transform="translate(484.45 175.5) scale(1 0.9)" font-size="6.2" fill="#fff" text-anchor="middle">80</text>
<text transform="translate(498.68 175.5) scale(1 0.9)" font-size="6.2" fill="#fff" text-anchor="middle">80.8</text>
<text transform="translate(512.9 175.5) scale(1 0.9)" font-size="6.2" fill="#fff" text-anchor="middle">80.6</text>
<text transform="translate(527.12 175.5) scale(1 0.9)" font-size="6.2" fill="#fff" text-anchor="middle">81.1</text>
<text transform="translate(541.35 175.5) scale(1 0.9)" font-size="6.2" fill="#fff" text-anchor="middle">79.4</text>
<text transform="translate(555.57 175.5) scale(1 0.9)" font-size="6.2" fill="#fff" text-anchor="middle">81.7</text>
<text transform="translate(569.79 175.5) scale(1 0.9)" font-size="6.2" fill="#fff" text-anchor="middle">80.6</text>
<text transform="translate(584.02 175.5) scale(1 0.9)" font-size="6.2" fill="#fff" text-anchor="middle">81.1</text>
<text transform="translate(598.24 175.5) scale(1 0.9)" font-size="6.2" fill="#111" text-anchor="middle">56.1</text>
<text transform="translate(612.46 175.5) scale(1 0.9)" font-size="6.2" fill="#111" text-anchor="middle">48.3</text>
<text transform="translate(626.69 175.5) scale(1 0.9)" font-size="6.2" fill="#111" text-anchor="middle">35.9</text>
<text transform="translate(413.34 187.26) scale(1 0.9)" font-size="6.2" fill="#fff" text-anchor="middle">100</text>
<text transform="translate(427.56 187.26) scale(1 0.9)" font-size="6.2" fill="#fff" text-anchor="middle">79.1</text>
<text transform="translate(441.78 187.26) scale(1 0.9)" font-size="6.2" fill="#fff" text-anchor="middle">91.8</text>
<text transform="translate(456.01 187.26) scale(1 0.9)" font-size="6.2" fill="#fff" text-anchor="middle">76</text>
<text transform="translate(470.23 187.26) scale(1 0.9)" font-size="6.2" fill="#fff" text-anchor="middle">93.1</text>
<text transform="translate(484.45 187.26) scale(1 0.9)" font-size="6.2" fill="#fff" text-anchor="middle">93</text>
<text transform="translate(498.68 187.26) scale(1 0.9)" font-size="6.2" fill="#fff" text-anchor="middle">93.6</text>
<text transform="translate(512.9 187.26) scale(1 0.9)" font-size="6.2" fill="#fff" text-anchor="middle">92.7</text>
<text transform="translate(527.12 187.26) scale(1 0.9)" font-size="6.2" fill="#fff" text-anchor="middle">93.4</text>
<text transform="translate(541.35 187.26) scale(1 0.9)" font-size="6.2" fill="#fff" text-anchor="middle">90.8</text>
<text transform="translate(555.57 187.26) scale(1 0.9)" font-size="6.2" fill="#fff" text-anchor="middle">91.8</text>
<text transform="translate(569.79 187.26) scale(1 0.9)" font-size="6.2" fill="#fff" text-anchor="middle">92.9</text>
<text transform="translate(584.02 187.26) scale(1 0.9)" font-size="6.2" fill="#fff" text-anchor="middle">93.4</text>
<text transform="translate(598.24 187.26) scale(1 0.9)" font-size="6.2" fill="#111" text-anchor="middle">65</text>
<text transform="translate(612.46 187.26) scale(1 0.9)" font-size="6.2" fill="#111" text-anchor="middle">54.9</text>
<text transform="translate(626.69 187.26) scale(1 0.9)" font-size="6.2" fill="#111" text-anchor="middle">43.1</text>
<text transform="translate(399.11 199.02) scale(1 0.9)" font-size="6.2" fill="#fff" text-anchor="middle">100</text>
<text transform="translate(413.34 199.02) scale(1 0.9)" font-size="6.2" fill="#fff" text-anchor="middle">96.9</text>
<text transform="translate(427.56 199.02) scale(1 0.9)" font-size="6.2" fill="#fff" text-anchor="middle">79.1</text>
<text transform="translate(441.78 199.02) scale(1 0.9)" font-size="6.2" fill="#fff" text-anchor="middle">82.1</text>
<text transform="translate(456.01 199.02) scale(1 0.9)" font-size="6.2" fill="#fff" text-anchor="middle">76</text>
<text transform="translate(470.23 199.02) scale(1 0.9)" font-size="6.2" fill="#fff" text-anchor="middle">88.6</text>
<text transform="translate(484.45 199.02) scale(1 0.9)" font-size="6.2" fill="#fff" text-anchor="middle">91.9</text>
<text transform="translate(498.68 199.02) scale(1 0.9)" font-size="6.2" fill="#fff" text-anchor="middle">89.1</text>
<text transform="translate(512.9 199.02) scale(1 0.9)" font-size="6.2" fill="#fff" text-anchor="middle">92.2</text>
<text transform="translate(527.12 199.02) scale(1 0.9)" font-size="6.2" fill="#fff" text-anchor="middle">88.6</text>
<text transform="translate(541.35 199.02) scale(1 0.9)" font-size="6.2" fill="#fff" text-anchor="middle">89.3</text>
<text transform="translate(555.57 199.02) scale(1 0.9)" font-size="6.2" fill="#fff" text-anchor="middle">91.9</text>
<text transform="translate(569.79 199.02) scale(1 0.9)" font-size="6.2" fill="#fff" text-anchor="middle">84.6</text>
<text transform="translate(584.02 199.02) scale(1 0.9)" font-size="6.2" fill="#fff" text-anchor="middle">85.1</text>
<text transform="translate(598.24 199.02) scale(1 0.9)" font-size="6.2" fill="#111" text-anchor="middle">61.4</text>
<text transform="translate(612.46 199.02) scale(1 0.9)" font-size="6.2" fill="#111" text-anchor="middle">54.3</text>
<text transform="translate(626.69 199.02) scale(1 0.9)" font-size="6.2" fill="#111" text-anchor="middle">41.7</text>
<line x1="391.5" y1="2.5" x2="633.7" y2="2.5" stroke="#999999" stroke-width="1"/>
<line x1="633.7" y1="2.5" x2="633.7" y2="202.9" stroke="#999999" stroke-width="1"/>
<line x1="391.5" y1="202.9" x2="633.7" y2="202.9" stroke="#3a3a3a" stroke-width="1"/>
<line x1="391.5" y1="2" x2="391.5" y2="203.4" stroke="#3a3a3a" stroke-width="1"/>
<line x1="388" y1="8.88" x2="392" y2="8.88" stroke="#3a3a3a" stroke-width="1"/>
<text transform="translate(384.8 11.15) scale(1 0.9)" font-size="7.0" fill="#222222" stroke="#222" stroke-width="0.15" text-anchor="end">AT1G06160.1</text>
<line x1="388" y1="20.64" x2="392" y2="20.64" stroke="#3a3a3a" stroke-width="1"/>
<text transform="translate(384.8 22.91) scale(1 0.9)" font-size="7.0" fill="#222222" stroke="#222" stroke-width="0.15" text-anchor="end">EgrCBF16</text>
<line x1="388" y1="32.4" x2="392" y2="32.4" stroke="#3a3a3a" stroke-width="1"/>
<text transform="translate(384.8 34.67) scale(1 0.9)" font-size="7.0" fill="#222222" stroke="#222" stroke-width="0.15" text-anchor="end">EgrCBF15</text>
<line x1="388" y1="44.16" x2="392" y2="44.16" stroke="#3a3a3a" stroke-width="1"/>
<text transform="translate(384.8 46.42) scale(1 0.9)" font-size="7.0" fill="#222222" stroke="#222" stroke-width="0.15" text-anchor="end">EgrCBF14</text>
<line x1="388" y1="55.91" x2="392" y2="55.91" stroke="#3a3a3a" stroke-width="1"/>
<text transform="translate(384.8 58.18) scale(1 0.9)" font-size="7.0" fill="#222222" stroke="#222" stroke-width="0.15" text-anchor="end">EgrCBF13</text>
<line x1="388" y1="67.67" x2="392" y2="67.67" stroke="#3a3a3a" stroke-width="1"/>
<text transform="translate(384.8 69.94) scale(1 0.9)" font-size="7.0" fill="#222222" stroke="#222" stroke-width="0.15" text-anchor="end">EgrCBF12</text>
<line x1="388" y1="79.43" x2="392" y2="79.43" stroke="#3a3a3a" stroke-width="1"/>
<text transform="translate(384.8 81.7) scale(1 0.9)" font-size="7.0" fill="#222222" stroke="#222" stroke-width="0.15" text-anchor="end">EgrCBF11</text>
<line x1="388" y1="91.19" x2="392" y2="91.19" stroke="#3a3a3a" stroke-width="1"/>
<text transform="translate(384.8 93.46) scale(1 0.9)" font-size="7.0" fill="#222222" stroke="#222" stroke-width="0.15" text-anchor="end">EgrCBF10</text>
<line x1="388" y1="102.95" x2="392" y2="102.95" stroke="#3a3a3a" stroke-width="1"/>
<text transform="translate(384.8 105.22) scale(1 0.9)" font-size="7.0" fill="#222222" stroke="#222" stroke-width="0.15" text-anchor="end">EgrCBF9</text>
<line x1="388" y1="114.71" x2="392" y2="114.71" stroke="#3a3a3a" stroke-width="1"/>
<text transform="translate(384.8 116.98) scale(1 0.9)" font-size="7.0" fill="#222222" stroke="#222" stroke-width="0.15" text-anchor="end">EgrCBF8</text>
<line x1="388" y1="126.47" x2="392" y2="126.47" stroke="#3a3a3a" stroke-width="1"/>
<text transform="translate(384.8 128.74) scale(1 0.9)" font-size="7.0" fill="#222222" stroke="#222" stroke-width="0.15" text-anchor="end">EgrCBF7</text>
<line x1="388" y1="138.23" x2="392" y2="138.23" stroke="#3a3a3a" stroke-width="1"/>
<text transform="translate(384.8 140.49) scale(1 0.9)" font-size="7.0" fill="#222222" stroke="#222" stroke-width="0.15" text-anchor="end">EgrCBF6</text>
<line x1="388" y1="149.99" x2="392" y2="149.99" stroke="#3a3a3a" stroke-width="1"/>
<text transform="translate(384.8 152.25) scale(1 0.9)" font-size="7.0" fill="#222222" stroke="#222" stroke-width="0.15" text-anchor="end">EgrCBF5</text>
<line x1="388" y1="161.74" x2="392" y2="161.74" stroke="#3a3a3a" stroke-width="1"/>
<text transform="translate(384.8 164.01) scale(1 0.9)" font-size="7.0" fill="#222222" stroke="#222" stroke-width="0.15" text-anchor="end">EgrCBF4</text>
<line x1="388" y1="173.5" x2="392" y2="173.5" stroke="#3a3a3a" stroke-width="1"/>
<text transform="translate(384.8 175.77) scale(1 0.9)" font-size="7.0" fill="#222222" stroke="#222" stroke-width="0.15" text-anchor="end">EgrCBF3</text>
<line x1="388" y1="185.26" x2="392" y2="185.26" stroke="#3a3a3a" stroke-width="1"/>
<text transform="translate(384.8 187.53) scale(1 0.9)" font-size="7.0" fill="#222222" stroke="#222" stroke-width="0.15" text-anchor="end">EgrCBF2</text>
<line x1="388" y1="197.02" x2="392" y2="197.02" stroke="#3a3a3a" stroke-width="1"/>
<text transform="translate(384.8 199.29) scale(1 0.9)" font-size="7.0" fill="#222222" stroke="#222" stroke-width="0.15" text-anchor="end">EgrCBF1</text>
<line x1="399.11" y1="202.9" x2="399.11" y2="206.9" stroke="#3a3a3a" stroke-width="1"/>
<text transform="translate(400.97 209) rotate(-90) scale(0.88 1)" font-size="6.9" fill="#222222" stroke="#222" stroke-width="0.15" text-anchor="end">EgrCBF1</text>
<line x1="413.34" y1="202.9" x2="413.34" y2="206.9" stroke="#3a3a3a" stroke-width="1"/>
<text transform="translate(415.2 209) rotate(-90) scale(0.88 1)" font-size="6.9" fill="#222222" stroke="#222" stroke-width="0.15" text-anchor="end">EgrCBF2</text>
<line x1="427.56" y1="202.9" x2="427.56" y2="206.9" stroke="#3a3a3a" stroke-width="1"/>
<text transform="translate(429.42 209) rotate(-90) scale(0.88 1)" font-size="6.9" fill="#222222" stroke="#222" stroke-width="0.15" text-anchor="end">EgrCBF3</text>
<line x1="441.78" y1="202.9" x2="441.78" y2="206.9" stroke="#3a3a3a" stroke-width="1"/>
<text transform="translate(443.65 209) rotate(-90) scale(0.88 1)" font-size="6.9" fill="#222222" stroke="#222" stroke-width="0.15" text-anchor="end">EgrCBF4</text>
<line x1="456.01" y1="202.9" x2="456.01" y2="206.9" stroke="#3a3a3a" stroke-width="1"/>
<text transform="translate(457.87 209) rotate(-90) scale(0.88 1)" font-size="6.9" fill="#222222" stroke="#222" stroke-width="0.15" text-anchor="end">EgrCBF5</text>
<line x1="470.23" y1="202.9" x2="470.23" y2="206.9" stroke="#3a3a3a" stroke-width="1"/>
<text transform="translate(472.09 209) rotate(-90) scale(0.88 1)" font-size="6.9" fill="#222222" stroke="#222" stroke-width="0.15" text-anchor="end">EgrCBF6</text>
<line x1="484.45" y1="202.9" x2="484.45" y2="206.9" stroke="#3a3a3a" stroke-width="1"/>
<text transform="translate(486.32 209) rotate(-90) scale(0.88 1)" font-size="6.9" fill="#222222" stroke="#222" stroke-width="0.15" text-anchor="end">EgrCBF7</text>
<line x1="498.68" y1="202.9" x2="498.68" y2="206.9" stroke="#3a3a3a" stroke-width="1"/>
<text transform="translate(500.54 209) rotate(-90) scale(0.88 1)" font-size="6.9" fill="#222222" stroke="#222" stroke-width="0.15" text-anchor="end">EgrCBF8</text>
<line x1="512.9" y1="202.9" x2="512.9" y2="206.9" stroke="#3a3a3a" stroke-width="1"/>
<text transform="translate(514.76 209) rotate(-90) scale(0.88 1)" font-size="6.9" fill="#222222" stroke="#222" stroke-width="0.15" text-anchor="end">EgrCBF9</text>
<line x1="527.12" y1="202.9" x2="527.12" y2="206.9" stroke="#3a3a3a" stroke-width="1"/>
<text transform="translate(528.99 209) rotate(-90) scale(0.88 1)" font-size="6.9" fill="#222222" stroke="#222" stroke-width="0.15" text-anchor="end">EgrCBF10</text>
<line x1="541.35" y1="202.9" x2="541.35" y2="206.9" stroke="#3a3a3a" stroke-width="1"/>
<text transform="translate(543.21 209) rotate(-90) scale(0.88 1)" font-size="6.9" fill="#222222" stroke="#222" stroke-width="0.15" text-anchor="end">EgrCBF11</text>
<line x1="555.57" y1="202.9" x2="555.57" y2="206.9" stroke="#3a3a3a" stroke-width="1"/>
<text transform="translate(557.43 209) rotate(-90) scale(0.88 1)" font-size="6.9" fill="#222222" stroke="#222" stroke-width="0.15" text-anchor="end">EgrCBF12</text>
<line x1="569.79" y1="202.9" x2="569.79" y2="206.9" stroke="#3a3a3a" stroke-width="1"/>
<text transform="translate(571.66 209) rotate(-90) scale(0.88 1)" font-size="6.9" fill="#222222" stroke="#222" stroke-width="0.15" text-anchor="end">EgrCBF13</text>
<line x1="584.02" y1="202.9" x2="584.02" y2="206.9" stroke="#3a3a3a" stroke-width="1"/>
<text transform="translate(585.88 209) rotate(-90) scale(0.88 1)" font-size="6.9" fill="#222222" stroke="#222" stroke-width="0.15" text-anchor="end">EgrCBF14</text>
<line x1="598.24" y1="202.9" x2="598.24" y2="206.9" stroke="#3a3a3a" stroke-width="1"/>
<text transform="translate(600.1 209) rotate(-90) scale(0.88 1)" font-size="6.9" fill="#222222" stroke="#222" stroke-width="0.15" text-anchor="end">EgrCBF15</text>
<line x1="612.46" y1="202.9" x2="612.46" y2="206.9" stroke="#3a3a3a" stroke-width="1"/>
<text transform="translate(614.33 209) rotate(-90) scale(0.88 1)" font-size="6.9" fill="#222222" stroke="#222" stroke-width="0.15" text-anchor="end">EgrCBF16</text>
<line x1="626.69" y1="202.9" x2="626.69" y2="206.9" stroke="#3a3a3a" stroke-width="1"/>
<text transform="translate(628.55 209) rotate(-90) scale(0.88 1)" font-size="6.9" fill="#222222" stroke="#222" stroke-width="0.15" text-anchor="end">AT1G06160.1</text>
<rect x="643.7" y="196.53" width="14.8" height="6.97" fill="#ffffff"/>
<rect x="643.7" y="189.85" width="14.8" height="6.97" fill="#ffffe2"/>
<rect x="643.7" y="183.18" width="14.8" height="6.97" fill="#ffffc0"/>
<rect x="643.7" y="176.51" width="14.8" height="6.97" fill="#ffffa0"/>
<rect x="643.7" y="169.83" width="14.8" height="6.97" fill="#ffff80"/>
<rect x="643.7" y="163.16" width="14.8" height="6.97" fill="#ffff57"/>
<rect x="643.7" y="156.49" width="14.8" height="6.97" fill="#fffd31"/>
<rect x="643.7" y="149.81" width="14.8" height="6.97" fill="#fff212"/>
<rect x="643.7" y="143.14" width="14.8" height="6.97" fill="#ffe500"/>
<rect x="643.7" y="136.47" width="14.8" height="6.97" fill="#ffd700"/>
<rect x="643.7" y="129.79" width="14.8" height="6.97" fill="#ffca00"/>
<rect x="643.7" y="123.12" width="14.8" height="6.97" fill="#ffbf00"/>
<rect x="643.7" y="116.45" width="14.8" height="6.97" fill="#ffb200"/>
<rect x="643.7" y="109.77" width="14.8" height="6.97" fill="#ffa300"/>
<rect x="643.7" y="103.1" width="14.8" height="6.97" fill="#ff9400"/>
<rect x="643.7" y="96.43" width="14.8" height="6.97" fill="#ff8400"/>
<rect x="643.7" y="89.75" width="14.8" height="6.97" fill="#ff7300"/>
<rect x="643.7" y="83.08" width="14.8" height="6.97" fill="#ff6200"/>
<rect x="643.7" y="76.41" width="14.8" height="6.97" fill="#ff5200"/>
<rect x="643.7" y="69.73" width="14.8" height="6.97" fill="#ff3200"/>
<rect x="643.7" y="63.06" width="14.8" height="6.97" fill="#ff1d00"/>
<rect x="643.7" y="56.39" width="14.8" height="6.97" fill="#ff1000"/>
<rect x="643.7" y="49.71" width="14.8" height="6.97" fill="#fb0600"/>
<rect x="643.7" y="43.04" width="14.8" height="6.97" fill="#ee0002"/>
<rect x="643.7" y="36.37" width="14.8" height="6.97" fill="#da0004"/>
<rect x="643.7" y="29.69" width="14.8" height="6.97" fill="#bd0006"/>
<rect x="643.7" y="23.02" width="14.8" height="6.97" fill="#a10008"/>
<rect x="643.7" y="16.35" width="14.8" height="6.97" fill="#840008"/>
<rect x="643.7" y="9.67" width="14.8" height="6.97" fill="#580008"/>
<rect x="643.7" y="3" width="14.8" height="6.97" fill="#350008"/>
<rect x="643.7" y="3" width="14.8" height="200.2" fill="none" stroke="#555" stroke-width="0.8"/>
<line x1="658.5" y1="3" x2="662.5" y2="3" stroke="#333" stroke-width="1"/>
<text x="665" y="5.23" font-size="6.2" fill="#222" stroke="#222" stroke-width="0.12">100.0</text>
<line x1="658.5" y1="43.04" x2="662.5" y2="43.04" stroke="#333" stroke-width="1"/>
<text x="665" y="45.27" font-size="6.2" fill="#222" stroke="#222" stroke-width="0.12">87.16</text>
<line x1="658.5" y1="83.08" x2="662.5" y2="83.08" stroke="#333" stroke-width="1"/>
<text x="665" y="85.31" font-size="6.2" fill="#222" stroke="#222" stroke-width="0.12">74.32</text>
<line x1="658.5" y1="123.12" x2="662.5" y2="123.12" stroke="#333" stroke-width="1"/>
<text x="665" y="125.35" font-size="6.2" fill="#222" stroke="#222" stroke-width="0.12">61.48</text>
<line x1="658.5" y1="163.16" x2="662.5" y2="163.16" stroke="#333" stroke-width="1"/>
<text x="665" y="165.39" font-size="6.2" fill="#222" stroke="#222" stroke-width="0.12">48.64</text>
<line x1="658.5" y1="203.2" x2="662.5" y2="203.2" stroke="#333" stroke-width="1"/>
<text x="665" y="205.43" font-size="6.2" fill="#222" stroke="#222" stroke-width="0.12">35.80</text>
<rect x="358" y="215.8" width="18" height="18.4" fill="#ffff00"/>
<text x="367" y="229.6" font-size="14" font-weight="bold" fill="#000" text-anchor="middle">(b)</text>
</g>
<rect x="264.28" y="260.8" width="29.62" height="25.3" fill="#fa0000"/>
<rect x="235.05" y="285.7" width="29.62" height="25.3" fill="#fa0000"/>
<rect x="264.28" y="285.7" width="29.62" height="25.3" fill="#fc6f6f"/>
<rect x="205.82" y="310.6" width="29.62" height="25.3" fill="#fa0000"/>
<rect x="235.05" y="310.6" width="29.62" height="25.3" fill="#fc6868"/>
<rect x="264.28" y="310.6" width="29.62" height="25.3" fill="#fc6f6f"/>
<rect x="176.6" y="335.5" width="29.62" height="25.3" fill="#fa0000"/>
<rect x="205.82" y="335.5" width="29.62" height="25.3" fill="#dadafe"/>
<rect x="235.05" y="335.5" width="29.62" height="25.3" fill="#c3c3fd"/>
<rect x="264.28" y="335.5" width="29.62" height="25.3" fill="#e0e0fe"/>
<rect x="147.38" y="360.4" width="29.62" height="25.3" fill="#fa0000"/>
<rect x="176.6" y="360.4" width="29.62" height="25.3" fill="#7575fa"/>
<rect x="205.82" y="360.4" width="29.62" height="25.3" fill="#6868f9"/>
<rect x="235.05" y="360.4" width="29.62" height="25.3" fill="#6262f9"/>
<rect x="264.28" y="360.4" width="29.62" height="25.3" fill="#6262f9"/>
<rect x="118.15" y="385.3" width="29.62" height="25.3" fill="#fa0000"/>
<rect x="147.38" y="385.3" width="29.62" height="25.3" fill="#fc5f5f"/>
<rect x="176.6" y="385.3" width="29.62" height="25.3" fill="#1515f6"/>
<rect x="205.82" y="385.3" width="29.62" height="25.3" fill="#0e0ef6"/>
<rect x="235.05" y="385.3" width="29.62" height="25.3" fill="#1d1df6"/>
<rect x="264.28" y="385.3" width="29.62" height="25.3" fill="#0e0ef6"/>
<rect x="88.93" y="410.2" width="29.62" height="25.3" fill="#fa0000"/>
<rect x="118.15" y="410.2" width="29.62" height="25.3" fill="#ffe3e3"/>
<rect x="147.38" y="410.2" width="29.62" height="25.3" fill="#fc6767"/>
<rect x="176.6" y="410.2" width="29.62" height="25.3" fill="#0101f5"/>
<rect x="205.82" y="410.2" width="29.62" height="25.3" fill="#1c1cf6"/>
<rect x="235.05" y="410.2" width="29.62" height="25.3" fill="#1d1df6"/>
<rect x="264.28" y="410.2" width="29.62" height="25.3" fill="#2323f6"/>
<rect x="59.7" y="435.1" width="29.62" height="25.3" fill="#fa0000"/>
<rect x="88.93" y="435.1" width="29.62" height="25.3" fill="#fd9b9b"/>
<rect x="118.15" y="435.1" width="29.62" height="25.3" fill="#feb4b4"/>
<rect x="147.38" y="435.1" width="29.62" height="25.3" fill="#fc6e6e"/>
<rect x="176.6" y="435.1" width="29.62" height="25.3" fill="#2727f7"/>
<rect x="205.82" y="435.1" width="29.62" height="25.3" fill="#1414f6"/>
<rect x="235.05" y="435.1" width="29.62" height="25.3" fill="#1919f6"/>
<rect x="264.28" y="435.1" width="29.62" height="25.3" fill="#1919f6"/>
<text transform="translate(278.89 277.9) scale(1 1.0)" font-size="13" fill="#fff" text-anchor="middle">100</text>
<text transform="translate(249.66 302.8) scale(1 1.0)" font-size="13" fill="#fff" text-anchor="middle">100</text>
<text transform="translate(278.89 302.8) scale(1 1.0)" font-size="13" fill="#111" text-anchor="middle">91.7</text>
<text transform="translate(220.44 327.7) scale(1 1.0)" font-size="13" fill="#fff" text-anchor="middle">100</text>
<text transform="translate(249.66 327.7) scale(1 1.0)" font-size="13" fill="#111" text-anchor="middle">92.2</text>
<text transform="translate(278.89 327.7) scale(1 1.0)" font-size="13" fill="#111" text-anchor="middle">91.7</text>
<text transform="translate(191.21 352.6) scale(1 1.0)" font-size="13" fill="#fff" text-anchor="middle">100</text>
<text transform="translate(220.44 352.6) scale(1 1.0)" font-size="13" fill="#111" text-anchor="middle">79.1</text>
<text transform="translate(249.66 352.6) scale(1 1.0)" font-size="13" fill="#111" text-anchor="middle">77.3</text>
<text transform="translate(278.89 352.6) scale(1 1.0)" font-size="13" fill="#111" text-anchor="middle">79.6</text>
<text transform="translate(161.99 377.5) scale(1 1.0)" font-size="13" fill="#fff" text-anchor="middle">100</text>
<text transform="translate(191.21 377.5) scale(1 1.0)" font-size="13" fill="#111" text-anchor="middle">71.1</text>
<text transform="translate(220.44 377.5) scale(1 1.0)" font-size="13" fill="#fff" text-anchor="middle">70.1</text>
<text transform="translate(249.66 377.5) scale(1 1.0)" font-size="13" fill="#fff" text-anchor="middle">69.6</text>
<text transform="translate(278.89 377.5) scale(1 1.0)" font-size="13" fill="#fff" text-anchor="middle">69.6</text>
<text transform="translate(132.76 402.4) scale(1 1.0)" font-size="13" fill="#fff" text-anchor="middle">100</text>
<text transform="translate(161.99 402.4) scale(1 1.0)" font-size="13" fill="#111" text-anchor="middle">92.9</text>
<text transform="translate(191.21 402.4) scale(1 1.0)" font-size="13" fill="#fff" text-anchor="middle">63.5</text>
<text transform="translate(220.44 402.4) scale(1 1.0)" font-size="13" fill="#fff" text-anchor="middle">62.9</text>
<text transform="translate(249.66 402.4) scale(1 1.0)" font-size="13" fill="#fff" text-anchor="middle">64.1</text>
<text transform="translate(278.89 402.4) scale(1 1.0)" font-size="13" fill="#fff" text-anchor="middle">62.9</text>
<text transform="translate(103.54 427.3) scale(1 1.0)" font-size="13" fill="#fff" text-anchor="middle">100</text>
<text transform="translate(132.76 427.3) scale(1 1.0)" font-size="13" fill="#111" text-anchor="middle">83</text>
<text transform="translate(161.99 427.3) scale(1 1.0)" font-size="13" fill="#111" text-anchor="middle">92.3</text>
<text transform="translate(191.21 427.3) scale(1 1.0)" font-size="13" fill="#fff" text-anchor="middle">61.9</text>
<text transform="translate(220.44 427.3) scale(1 1.0)" font-size="13" fill="#fff" text-anchor="middle">64</text>
<text transform="translate(249.66 427.3) scale(1 1.0)" font-size="13" fill="#fff" text-anchor="middle">64.1</text>
<text transform="translate(278.89 427.3) scale(1 1.0)" font-size="13" fill="#fff" text-anchor="middle">64.6</text>
<text transform="translate(74.31 452.2) scale(1 1.0)" font-size="13" fill="#fff" text-anchor="middle">100</text>
<text transform="translate(103.54 452.2) scale(1 1.0)" font-size="13" fill="#111" text-anchor="middle">88.4</text>
<text transform="translate(132.76 452.2) scale(1 1.0)" font-size="13" fill="#111" text-anchor="middle">86.5</text>
<text transform="translate(161.99 452.2) scale(1 1.0)" font-size="13" fill="#111" text-anchor="middle">91.8</text>
<text transform="translate(191.21 452.2) scale(1 1.0)" font-size="13" fill="#fff" text-anchor="middle">64.9</text>
<text transform="translate(220.44 452.2) scale(1 1.0)" font-size="13" fill="#fff" text-anchor="middle">63.4</text>
<text transform="translate(249.66 452.2) scale(1 1.0)" font-size="13" fill="#fff" text-anchor="middle">63.8</text>
<text transform="translate(278.89 452.2) scale(1 1.0)" font-size="13" fill="#fff" text-anchor="middle">63.8</text>
<line x1="59.5" y1="260.6" x2="293.5" y2="260.6" stroke="#3a3a3a" stroke-width="1"/>
<line x1="293.5" y1="260.6" x2="293.5" y2="460" stroke="#3a3a3a" stroke-width="1"/>
<line x1="59.5" y1="460" x2="293.5" y2="460" stroke="#3a3a3a" stroke-width="1"/>
<line x1="59.5" y1="260.1" x2="59.5" y2="460.5" stroke="#3a3a3a" stroke-width="1"/>
<line x1="55.7" y1="273.25" x2="59.7" y2="273.25" stroke="#3a3a3a" stroke-width="1"/>
<text transform="translate(52.7 275.7) scale(1 1.0)" font-size="6.8" fill="#222222" stroke="#222" stroke-width="0.15" text-anchor="end">AT4G25470.1</text>
<line x1="55.7" y1="298.15" x2="59.7" y2="298.15" stroke="#3a3a3a" stroke-width="1"/>
<text transform="translate(52.7 300.6) scale(1 1.0)" font-size="6.8" fill="#222222" stroke="#222" stroke-width="0.15" text-anchor="end">AT4G25480.1</text>
<line x1="55.7" y1="323.05" x2="59.7" y2="323.05" stroke="#3a3a3a" stroke-width="1"/>
<text transform="translate(52.7 325.5) scale(1 1.0)" font-size="6.8" fill="#222222" stroke="#222" stroke-width="0.15" text-anchor="end">AT4G25490.1</text>
<line x1="55.7" y1="347.95" x2="59.7" y2="347.95" stroke="#3a3a3a" stroke-width="1"/>
<text transform="translate(52.7 350.4) scale(1 1.0)" font-size="6.8" fill="#222222" stroke="#222" stroke-width="0.15" text-anchor="end">AT5G51990.1</text>
<line x1="55.7" y1="372.85" x2="59.7" y2="372.85" stroke="#3a3a3a" stroke-width="1"/>
<text transform="translate(52.7 375.3) scale(1 1.0)" font-size="6.8" fill="#222222" stroke="#222" stroke-width="0.15" text-anchor="end">EguCBF1d</text>
<line x1="55.7" y1="397.75" x2="59.7" y2="397.75" stroke="#3a3a3a" stroke-width="1"/>
<text transform="translate(52.7 400.2) scale(1 1.0)" font-size="6.8" fill="#222222" stroke="#222" stroke-width="0.15" text-anchor="end">EguCBF1c</text>
<line x1="55.7" y1="422.65" x2="59.7" y2="422.65" stroke="#3a3a3a" stroke-width="1"/>
<text transform="translate(52.7 425.1) scale(1 1.0)" font-size="6.8" fill="#222222" stroke="#222" stroke-width="0.15" text-anchor="end">EguCBF1b</text>
<line x1="55.7" y1="447.55" x2="59.7" y2="447.55" stroke="#3a3a3a" stroke-width="1"/>
<text transform="translate(52.7 450) scale(1 1.0)" font-size="6.8" fill="#222222" stroke="#222" stroke-width="0.15" text-anchor="end">EguCBF1a</text>
<line x1="74.31" y1="460" x2="74.31" y2="464" stroke="#3a3a3a" stroke-width="1"/>
<text transform="translate(76.18 465.5) rotate(-90) scale(0.88 1)" font-size="6.9" fill="#222222" stroke="#222" stroke-width="0.15" text-anchor="end">EguCBF1a</text>
<line x1="103.54" y1="460" x2="103.54" y2="464" stroke="#3a3a3a" stroke-width="1"/>
<text transform="translate(105.4 465.5) rotate(-90) scale(0.88 1)" font-size="6.9" fill="#222222" stroke="#222" stroke-width="0.15" text-anchor="end">EguCBF1b</text>
<line x1="132.76" y1="460" x2="132.76" y2="464" stroke="#3a3a3a" stroke-width="1"/>
<text transform="translate(134.63 465.5) rotate(-90) scale(0.88 1)" font-size="6.9" fill="#222222" stroke="#222" stroke-width="0.15" text-anchor="end">EguCBF1c</text>
<line x1="161.99" y1="460" x2="161.99" y2="464" stroke="#3a3a3a" stroke-width="1"/>
<text transform="translate(163.85 465.5) rotate(-90) scale(0.88 1)" font-size="6.9" fill="#222222" stroke="#222" stroke-width="0.15" text-anchor="end">EguCBF1d</text>
<line x1="191.21" y1="460" x2="191.21" y2="464" stroke="#3a3a3a" stroke-width="1"/>
<text transform="translate(193.08 465.5) rotate(-90) scale(0.88 1)" font-size="6.9" fill="#222222" stroke="#222" stroke-width="0.15" text-anchor="end">AT5G51990.1</text>
<line x1="220.44" y1="460" x2="220.44" y2="464" stroke="#3a3a3a" stroke-width="1"/>
<text transform="translate(222.3 465.5) rotate(-90) scale(0.88 1)" font-size="6.9" fill="#222222" stroke="#222" stroke-width="0.15" text-anchor="end">AT4G25490.1</text>
<line x1="249.66" y1="460" x2="249.66" y2="464" stroke="#3a3a3a" stroke-width="1"/>
<text transform="translate(251.53 465.5) rotate(-90) scale(0.88 1)" font-size="6.9" fill="#222222" stroke="#222" stroke-width="0.15" text-anchor="end">AT4G25480.1</text>
<line x1="278.89" y1="460" x2="278.89" y2="464" stroke="#3a3a3a" stroke-width="1"/>
<text transform="translate(280.75 465.5) rotate(-90) scale(0.88 1)" font-size="6.9" fill="#222222" stroke="#222" stroke-width="0.15" text-anchor="end">AT4G25470.1</text>
<rect x="298.9" y="453.33" width="14.7" height="6.97" fill="#0808f5"/>
<rect x="298.9" y="446.66" width="14.7" height="6.97" fill="#1818f6"/>
<rect x="298.9" y="439.99" width="14.7" height="6.97" fill="#2828f7"/>
<rect x="298.9" y="433.32" width="14.7" height="6.97" fill="#3838f7"/>
<rect x="298.9" y="426.65" width="14.7" height="6.97" fill="#4848f8"/>
<rect x="298.9" y="419.98" width="14.7" height="6.97" fill="#5858f9"/>
<rect x="298.9" y="413.31" width="14.7" height="6.97" fill="#6868f9"/>
<rect x="298.9" y="406.64" width="14.7" height="6.97" fill="#7878fa"/>
<rect x="298.9" y="399.97" width="14.7" height="6.97" fill="#8888fa"/>
<rect x="298.9" y="393.3" width="14.7" height="6.97" fill="#9898fb"/>
<rect x="298.9" y="386.63" width="14.7" height="6.97" fill="#a8a8fc"/>
<rect x="298.9" y="379.96" width="14.7" height="6.97" fill="#b8b8fc"/>
<rect x="298.9" y="373.29" width="14.7" height="6.97" fill="#c8c8fd"/>
<rect x="298.9" y="366.62" width="14.7" height="6.97" fill="#d8d8fe"/>
<rect x="298.9" y="359.95" width="14.7" height="6.97" fill="#e8e8fe"/>
<rect x="298.9" y="353.28" width="14.7" height="6.97" fill="#f8f8ff"/>
<rect x="298.9" y="346.61" width="14.7" height="6.97" fill="#ffe6e6"/>
<rect x="298.9" y="339.94" width="14.7" height="6.97" fill="#ffd5d5"/>
<rect x="298.9" y="333.27" width="14.7" height="6.97" fill="#fec4c4"/>
<rect x="298.9" y="326.6" width="14.7" height="6.97" fill="#feb3b3"/>
<rect x="298.9" y="319.93" width="14.7" height="6.97" fill="#fea2a2"/>
<rect x="298.9" y="313.26" width="14.7" height="6.97" fill="#fd9191"/>
<rect x="298.9" y="306.59" width="14.7" height="6.97" fill="#fd8080"/>
<rect x="298.9" y="299.92" width="14.7" height="6.97" fill="#fc6f6f"/>
<rect x="298.9" y="293.25" width="14.7" height="6.97" fill="#fc5e5e"/>
<rect x="298.9" y="286.58" width="14.7" height="6.97" fill="#fc4d4d"/>
<rect x="298.9" y="279.91" width="14.7" height="6.97" fill="#fb3c3c"/>
<rect x="298.9" y="273.24" width="14.7" height="6.97" fill="#fb2b2b"/>
<rect x="298.9" y="266.57" width="14.7" height="6.97" fill="#fb1a1a"/>
<rect x="298.9" y="259.9" width="14.7" height="6.97" fill="#fa0909"/>
<rect x="298.9" y="259.9" width="14.7" height="200.1" fill="none" stroke="#555" stroke-width="0.8"/>
<line x1="313.6" y1="259.9" x2="317.6" y2="259.9" stroke="#333" stroke-width="1"/>
<text x="320.1" y="262.13" font-size="6.2" fill="#222" stroke="#222" stroke-width="0.12">100.0</text>
<line x1="313.6" y1="299.92" x2="317.6" y2="299.92" stroke="#333" stroke-width="1"/>
<text x="320.1" y="302.15" font-size="6.2" fill="#222" stroke="#222" stroke-width="0.12">92.36</text>
<line x1="313.6" y1="339.94" x2="317.6" y2="339.94" stroke="#333" stroke-width="1"/>
<text x="320.1" y="342.17" font-size="6.2" fill="#222" stroke="#222" stroke-width="0.12">84.72</text>
<line x1="313.6" y1="379.96" x2="317.6" y2="379.96" stroke="#333" stroke-width="1"/>
<text x="320.1" y="382.19" font-size="6.2" fill="#222" stroke="#222" stroke-width="0.12">77.08</text>
<line x1="313.6" y1="419.98" x2="317.6" y2="419.98" stroke="#333" stroke-width="1"/>
<text x="320.1" y="422.21" font-size="6.2" fill="#222" stroke="#222" stroke-width="0.12">69.44</text>
<line x1="313.6" y1="460" x2="317.6" y2="460" stroke="#333" stroke-width="1"/>
<text x="320.1" y="462.23" font-size="6.2" fill="#222" stroke="#222" stroke-width="0.12">61.80</text>
<rect x="14.8" y="473" width="16.5" height="18" fill="#ffff00"/>
<text x="23.05" y="486.6" font-size="14" font-weight="bold" fill="#000" text-anchor="middle">(c)</text>
<rect x="602.36" y="247.1" width="33.54" height="30.47" fill="#3e0522"/>
<rect x="569.21" y="277.17" width="33.54" height="30.47" fill="#3e0522"/>
<rect x="602.36" y="277.17" width="33.54" height="30.47" fill="#56b0a9"/>
<rect x="536.07" y="307.24" width="33.54" height="30.47" fill="#3e0522"/>
<rect x="569.21" y="307.24" width="33.54" height="30.47" fill="#58b2a8"/>
<rect x="602.36" y="307.24" width="33.54" height="30.47" fill="#c2274a"/>
<rect x="502.93" y="337.31" width="33.54" height="30.47" fill="#3e0522"/>
<rect x="536.07" y="337.31" width="33.54" height="30.47" fill="#4365b6"/>
<rect x="569.21" y="337.31" width="33.54" height="30.47" fill="#4760b4"/>
<rect x="602.36" y="337.31" width="33.54" height="30.47" fill="#3e6db9"/>
<rect x="469.79" y="367.39" width="33.54" height="30.47" fill="#3e0522"/>
<rect x="502.93" y="367.39" width="33.54" height="30.47" fill="#3c326e"/>
<rect x="536.07" y="367.39" width="33.54" height="30.47" fill="#251d42"/>
<rect x="569.21" y="367.39" width="33.54" height="30.47" fill="#5e4ca8"/>
<rect x="602.36" y="367.39" width="33.54" height="30.47" fill="#2b224d"/>
<rect x="436.64" y="397.46" width="33.54" height="30.47" fill="#3e0522"/>
<rect x="469.79" y="397.46" width="33.54" height="30.47" fill="#358ec3"/>
<rect x="502.93" y="397.46" width="33.54" height="30.47" fill="#348cc4"/>
<rect x="536.07" y="397.46" width="33.54" height="30.47" fill="#5a4eaa"/>
<rect x="569.21" y="397.46" width="33.54" height="30.47" fill="#348bc4"/>
<rect x="602.36" y="397.46" width="33.54" height="30.47" fill="#485eb4"/>
<rect x="403.5" y="427.53" width="33.54" height="30.47" fill="#3e0522"/>
<rect x="436.64" y="427.53" width="33.54" height="30.47" fill="#5cb6a7"/>
<rect x="469.79" y="427.53" width="33.54" height="30.47" fill="#387dc0"/>
<rect x="502.93" y="427.53" width="33.54" height="30.47" fill="#397abf"/>
<rect x="536.07" y="427.53" width="33.54" height="30.47" fill="#5e4ca8"/>
<rect x="569.21" y="427.53" width="33.54" height="30.47" fill="#3488c4"/>
<rect x="602.36" y="427.53" width="33.54" height="30.47" fill="#3e6cb8"/>
<text transform="translate(618.93 267.51) scale(1 1.0)" font-size="15" fill="#fff" text-anchor="middle">100</text>
<text transform="translate(585.79 297.58) scale(1 1.0)" font-size="15" fill="#fff" text-anchor="middle">100</text>
<text transform="translate(618.93 297.58) scale(1 1.0)" font-size="15" fill="#111" text-anchor="middle">35.2</text>
<text transform="translate(552.64 327.65) scale(1 1.0)" font-size="15" fill="#fff" text-anchor="middle">100</text>
<text transform="translate(585.79 327.65) scale(1 1.0)" font-size="15" fill="#111" text-anchor="middle">35.5</text>
<text transform="translate(618.93 327.65) scale(1 1.0)" font-size="15" fill="#fff" text-anchor="middle">82.8</text>
<text transform="translate(519.5 357.72) scale(1 1.0)" font-size="15" fill="#fff" text-anchor="middle">100</text>
<text transform="translate(552.64 357.72) scale(1 1.0)" font-size="15" fill="#fff" text-anchor="middle">23.7</text>
<text transform="translate(585.79 357.72) scale(1 1.0)" font-size="15" fill="#fff" text-anchor="middle">23</text>
<text transform="translate(618.93 357.72) scale(1 1.0)" font-size="15" fill="#fff" text-anchor="middle">24.7</text>
<text transform="translate(486.36 387.79) scale(1 1.0)" font-size="15" fill="#fff" text-anchor="middle">100</text>
<text transform="translate(519.5 387.79) scale(1 1.0)" font-size="15" fill="#fff" text-anchor="middle">12.7</text>
<text transform="translate(552.64 387.79) scale(1 1.0)" font-size="15" fill="#fff" text-anchor="middle">9.9</text>
<text transform="translate(585.79 387.79) scale(1 1.0)" font-size="15" fill="#fff" text-anchor="middle">19.5</text>
<text transform="translate(618.93 387.79) scale(1 1.0)" font-size="15" fill="#fff" text-anchor="middle">10.6</text>
<text transform="translate(453.21 417.86) scale(1 1.0)" font-size="15" fill="#fff" text-anchor="middle">100</text>
<text transform="translate(486.36 417.86) scale(1 1.0)" font-size="15" fill="#fff" text-anchor="middle">29.8</text>
<text transform="translate(519.5 417.86) scale(1 1.0)" font-size="15" fill="#fff" text-anchor="middle">29.5</text>
<text transform="translate(552.64 417.86) scale(1 1.0)" font-size="15" fill="#fff" text-anchor="middle">21.3</text>
<text transform="translate(585.79 417.86) scale(1 1.0)" font-size="15" fill="#fff" text-anchor="middle">29.2</text>
<text transform="translate(618.93 417.86) scale(1 1.0)" font-size="15" fill="#fff" text-anchor="middle">22.8</text>
<text transform="translate(420.07 447.93) scale(1 1.0)" font-size="15" fill="#fff" text-anchor="middle">100</text>
<text transform="translate(453.21 447.93) scale(1 1.0)" font-size="15" fill="#111" text-anchor="middle">36.3</text>
<text transform="translate(486.36 447.93) scale(1 1.0)" font-size="15" fill="#fff" text-anchor="middle">26.2</text>
<text transform="translate(519.5 447.93) scale(1 1.0)" font-size="15" fill="#fff" text-anchor="middle">25.8</text>
<text transform="translate(552.64 447.93) scale(1 1.0)" font-size="15" fill="#fff" text-anchor="middle">19.6</text>
<text transform="translate(585.79 447.93) scale(1 1.0)" font-size="15" fill="#fff" text-anchor="middle">28.1</text>
<text transform="translate(618.93 447.93) scale(1 1.0)" font-size="15" fill="#fff" text-anchor="middle">24.6</text>
<line x1="403.5" y1="247" x2="635.2" y2="247" stroke="#999999" stroke-width="1"/>
<line x1="635.2" y1="247" x2="635.2" y2="457.5" stroke="#3a3a3a" stroke-width="1"/>
<line x1="403.5" y1="457.5" x2="635.2" y2="457.5" stroke="#3a3a3a" stroke-width="1"/>
<line x1="403.5" y1="246.5" x2="403.5" y2="458" stroke="#3a3a3a" stroke-width="1"/>
<line x1="399.5" y1="262.14" x2="403.5" y2="262.14" stroke="#3a3a3a" stroke-width="1"/>
<text transform="translate(396.2 264.55) scale(1 1.0)" font-size="6.7" fill="#222222" stroke="#222" stroke-width="0.15" text-anchor="end">AT1G48320.1</text>
<line x1="399.5" y1="292.21" x2="403.5" y2="292.21" stroke="#3a3a3a" stroke-width="1"/>
<text transform="translate(396.2 294.62) scale(1 1.0)" font-size="6.7" fill="#222222" stroke="#222" stroke-width="0.15" text-anchor="end">AT1G60550.1</text>
<line x1="399.5" y1="322.28" x2="403.5" y2="322.28" stroke="#3a3a3a" stroke-width="1"/>
<text transform="translate(396.2 324.69) scale(1 1.0)" font-size="6.7" fill="#222222" stroke="#222" stroke-width="0.15" text-anchor="end">AT5G48950.1</text>
<line x1="399.5" y1="352.35" x2="403.5" y2="352.35" stroke="#3a3a3a" stroke-width="1"/>
<text transform="translate(396.2 354.76) scale(1 1.0)" font-size="6.7" fill="#222222" stroke="#222" stroke-width="0.15" text-anchor="end">AT5G58260.1</text>
<line x1="399.5" y1="382.42" x2="403.5" y2="382.42" stroke="#3a3a3a" stroke-width="1"/>
<text transform="translate(396.2 384.83) scale(1 1.0)" font-size="6.7" fill="#222222" stroke="#222" stroke-width="0.15" text-anchor="end">EuglDHN10</text>
<line x1="399.5" y1="412.49" x2="403.5" y2="412.49" stroke="#3a3a3a" stroke-width="1"/>
<text transform="translate(396.2 414.9) scale(1 1.0)" font-size="6.7" fill="#222222" stroke="#222" stroke-width="0.15" text-anchor="end">EuglDHN2</text>
<line x1="399.5" y1="442.56" x2="403.5" y2="442.56" stroke="#3a3a3a" stroke-width="1"/>
<text transform="translate(396.2 444.98) scale(1 1.0)" font-size="6.7" fill="#222222" stroke="#222" stroke-width="0.15" text-anchor="end">EuglDHN1</text>
<line x1="420.07" y1="457.6" x2="420.07" y2="461.6" stroke="#3a3a3a" stroke-width="1"/>
<text transform="translate(421.91 464.5) rotate(-90) scale(0.93 1)" font-size="6.8" fill="#222222" stroke="#222" stroke-width="0.15" text-anchor="end">EuglDHN1</text>
<line x1="453.21" y1="457.6" x2="453.21" y2="461.6" stroke="#3a3a3a" stroke-width="1"/>
<text transform="translate(455.05 464.5) rotate(-90) scale(0.93 1)" font-size="6.8" fill="#222222" stroke="#222" stroke-width="0.15" text-anchor="end">EuglDHN2</text>
<line x1="486.36" y1="457.6" x2="486.36" y2="461.6" stroke="#3a3a3a" stroke-width="1"/>
<text transform="translate(488.19 464.5) rotate(-90) scale(0.93 1)" font-size="6.8" fill="#222222" stroke="#222" stroke-width="0.15" text-anchor="end">EuglDHN10</text>
<line x1="519.5" y1="457.6" x2="519.5" y2="461.6" stroke="#3a3a3a" stroke-width="1"/>
<text transform="translate(521.34 464.5) rotate(-90) scale(0.93 1)" font-size="6.8" fill="#222222" stroke="#222" stroke-width="0.15" text-anchor="end">AT5G58260.1</text>
<line x1="552.64" y1="457.6" x2="552.64" y2="461.6" stroke="#3a3a3a" stroke-width="1"/>
<text transform="translate(554.48 464.5) rotate(-90) scale(0.93 1)" font-size="6.8" fill="#222222" stroke="#222" stroke-width="0.15" text-anchor="end">AT5G48950.1</text>
<line x1="585.79" y1="457.6" x2="585.79" y2="461.6" stroke="#3a3a3a" stroke-width="1"/>
<text transform="translate(587.62 464.5) rotate(-90) scale(0.93 1)" font-size="6.8" fill="#222222" stroke="#222" stroke-width="0.15" text-anchor="end">AT1G60550.1</text>
<line x1="618.93" y1="457.6" x2="618.93" y2="461.6" stroke="#3a3a3a" stroke-width="1"/>
<text transform="translate(620.76 464.5) rotate(-90) scale(0.93 1)" font-size="6.8" fill="#222222" stroke="#222" stroke-width="0.15" text-anchor="end">AT1G48320.1</text>
<rect x="639.6" y="450.97" width="14.2" height="7.33" fill="#2e2554"/>
<rect x="639.6" y="443.94" width="14.2" height="7.33" fill="#44377c"/>
<rect x="639.6" y="436.91" width="14.2" height="7.33" fill="#544298"/>
<rect x="639.6" y="429.88" width="14.2" height="7.33" fill="#5d4da9"/>
<rect x="639.6" y="422.85" width="14.2" height="7.33" fill="#4660b5"/>
<rect x="639.6" y="415.82" width="14.2" height="7.33" fill="#387dc0"/>
<rect x="639.6" y="408.79" width="14.2" height="7.33" fill="#348bc4"/>
<rect x="639.6" y="401.76" width="14.2" height="7.33" fill="#3d9dba"/>
<rect x="639.6" y="394.73" width="14.2" height="7.33" fill="#55b0aa"/>
<rect x="639.6" y="387.7" width="14.2" height="7.33" fill="#65bea6"/>
<rect x="639.6" y="380.67" width="14.2" height="7.33" fill="#78caa6"/>
<rect x="639.6" y="373.64" width="14.2" height="7.33" fill="#93d5aa"/>
<rect x="639.6" y="366.61" width="14.2" height="7.33" fill="#b2e0ae"/>
<rect x="639.6" y="359.58" width="14.2" height="7.33" fill="#d4ecb2"/>
<rect x="639.6" y="352.55" width="14.2" height="7.33" fill="#eaf1b3"/>
<rect x="639.6" y="345.52" width="14.2" height="7.33" fill="#f9eba6"/>
<rect x="639.6" y="338.49" width="14.2" height="7.33" fill="#fcd78c"/>
<rect x="639.6" y="331.46" width="14.2" height="7.33" fill="#fbc075"/>
<rect x="639.6" y="324.43" width="14.2" height="7.33" fill="#f8a661"/>
<rect x="639.6" y="317.4" width="14.2" height="7.33" fill="#f38951"/>
<rect x="639.6" y="310.37" width="14.2" height="7.33" fill="#ed734a"/>
<rect x="639.6" y="303.34" width="14.2" height="7.33" fill="#e45f48"/>
<rect x="639.6" y="296.31" width="14.2" height="7.33" fill="#d94b48"/>
<rect x="639.6" y="289.28" width="14.2" height="7.33" fill="#ce3649"/>
<rect x="639.6" y="282.25" width="14.2" height="7.33" fill="#be2449"/>
<rect x="639.6" y="275.22" width="14.2" height="7.33" fill="#a81547"/>
<rect x="639.6" y="268.19" width="14.2" height="7.33" fill="#910d43"/>
<rect x="639.6" y="261.16" width="14.2" height="7.33" fill="#790a3b"/>
<rect x="639.6" y="254.13" width="14.2" height="7.33" fill="#610832"/>
<rect x="639.6" y="247.1" width="14.2" height="7.33" fill="#4a0627"/>
<rect x="639.6" y="247.1" width="14.2" height="210.9" fill="none" stroke="#555" stroke-width="0.8"/>
<line x1="653.8" y1="247.1" x2="657.8" y2="247.1" stroke="#333" stroke-width="1"/>
<text x="660.3" y="249.33" font-size="6.2" fill="#222" stroke="#222" stroke-width="0.12">100.0</text>
<line x1="653.8" y1="289.28" x2="657.8" y2="289.28" stroke="#333" stroke-width="1"/>
<text x="660.3" y="291.51" font-size="6.2" fill="#222" stroke="#222" stroke-width="0.12">81.90</text>
<line x1="653.8" y1="331.46" x2="657.8" y2="331.46" stroke="#333" stroke-width="1"/>
<text x="660.3" y="333.69" font-size="6.2" fill="#222" stroke="#222" stroke-width="0.12">63.80</text>
<line x1="653.8" y1="373.64" x2="657.8" y2="373.64" stroke="#333" stroke-width="1"/>
<text x="660.3" y="375.87" font-size="6.2" fill="#222" stroke="#222" stroke-width="0.12">45.70</text>
<line x1="653.8" y1="415.82" x2="657.8" y2="415.82" stroke="#333" stroke-width="1"/>
<text x="660.3" y="418.05" font-size="6.2" fill="#222" stroke="#222" stroke-width="0.12">27.60</text>
<line x1="653.8" y1="458" x2="657.8" y2="458" stroke="#333" stroke-width="1"/>
<text x="660.3" y="460.23" font-size="6.2" fill="#222" stroke="#222" stroke-width="0.12">9.500</text>
<rect x="357.9" y="472" width="18" height="18.8" fill="#ffff00"/>
<text x="366.9" y="487" font-size="14" font-weight="bold" fill="#000" text-anchor="middle">(d)</text>
</svg>
</body></html>
